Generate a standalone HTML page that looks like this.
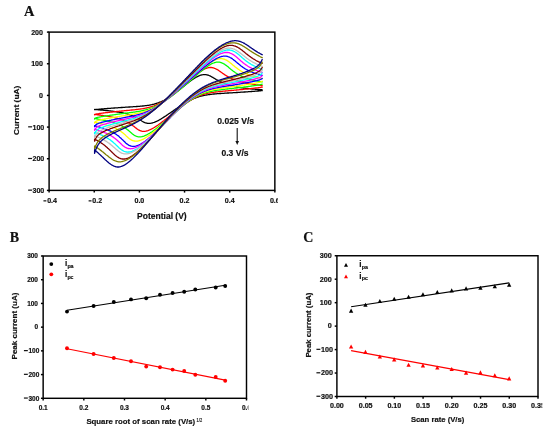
<!DOCTYPE html>
<html><head><meta charset="utf-8"><style>
html,body{margin:0;padding:0;background:#fff;}
svg{display:block;filter:blur(0.3px);}
text{font-family:"Liberation Sans", sans-serif;fill:#111;stroke:#111;stroke-width:0.18px;}
text.serif{font-family:"Liberation Serif", serif;}
</style></head><body>
<svg width="550" height="434" viewBox="0 0 550 434">
<rect width="550" height="434" fill="#fff"/>
<text x="23.9" y="16.3" font-size="14.4" font-weight="bold" class="serif">A</text>
<g fill="none" stroke-width="1.3" stroke-linejoin="round" stroke-linecap="round">
<path d="M94.6,109.7 L95.2,109.6 L95.7,109.5 L96.3,109.5 L96.8,109.4 L97.4,109.4 L97.9,109.3 L98.5,109.3 L99.0,109.2 L99.6,109.2 L100.1,109.1 L100.7,109.1 L101.2,109.0 L101.8,109.0 L102.3,108.9 L102.9,108.9 L103.4,108.8 L104.0,108.8 L104.5,108.7 L105.1,108.7 L105.6,108.6 L106.2,108.6 L106.7,108.6 L107.3,108.5 L107.8,108.5 L108.4,108.4 L109.0,108.4 L109.5,108.3 L110.1,108.3 L110.6,108.3 L111.2,108.2 L111.7,108.2 L112.3,108.1 L112.8,108.1 L113.4,108.1 L113.9,108.0 L114.5,108.0 L115.0,107.9 L115.6,107.9 L116.1,107.9 L116.7,107.8 L117.2,107.8 L117.8,107.8 L118.3,107.7 L118.9,107.7 L119.4,107.6 L120.0,107.6 L120.5,107.6 L121.1,107.5 L121.6,107.5 L122.2,107.5 L122.7,107.4 L123.3,107.4 L123.8,107.4 L124.4,107.3 L124.9,107.3 L125.5,107.2 L126.0,107.2 L126.6,107.2 L127.1,107.1 L127.7,107.1 L128.2,107.1 L128.8,107.0 L129.3,107.0 L129.9,107.0 L130.4,106.9 L131.0,106.9 L131.6,106.9 L132.1,106.8 L132.7,106.8 L133.2,106.7 L133.8,106.7 L134.3,106.7 L134.9,106.6 L135.4,106.6 L136.0,106.6 L136.5,106.5 L137.1,106.5 L137.6,106.4 L138.2,106.4 L138.7,106.3 L139.3,106.3 L139.8,106.3 L140.4,106.2 L140.9,106.2 L141.5,106.1 L142.0,106.1 L142.6,106.0 L143.1,106.0 L143.7,105.9 L144.2,105.8 L145.3,105.7 L146.4,105.6 L147.5,105.4 L148.5,105.3 L149.6,105.1 L150.7,104.9 L151.8,104.7 L152.3,104.5 L152.8,104.4 L153.4,104.3 L153.9,104.2 L154.4,104.0 L155.0,103.9 L155.5,103.7 L156.0,103.5 L156.6,103.4 L157.1,103.2 L157.6,103.0 L158.1,102.8 L158.7,102.6 L159.2,102.4 L159.7,102.2 L160.3,102.0 L160.8,101.8 L161.3,101.5 L161.8,101.3 L162.4,101.1 L162.9,100.8 L163.4,100.5 L164.0,100.3 L164.5,100.0 L165.0,99.7 L165.5,99.4 L166.1,99.1 L166.6,98.8 L167.1,98.5 L167.6,98.2 L168.2,97.9 L168.7,97.5 L169.2,97.2 L169.7,96.9 L170.3,96.5 L170.8,96.2 L171.3,95.8 L171.8,95.5 L172.4,95.1 L172.9,94.7 L173.4,94.3 L173.9,94.0 L174.5,93.6 L175.0,93.2 L175.5,92.8 L176.0,92.4 L176.6,92.0 L177.1,91.6 L177.6,91.2 L178.1,90.8 L178.7,90.4 L179.2,89.9 L179.7,89.5 L180.2,89.1 L180.8,88.7 L181.3,88.3 L181.8,87.8 L182.3,87.4 L182.9,87.0 L183.4,86.6 L183.9,86.1 L184.5,85.7 L185.0,85.3 L185.5,84.8 L186.0,84.4 L186.6,84.0 L187.1,83.6 L187.6,83.2 L188.2,82.7 L188.7,82.3 L189.2,81.9 L189.8,81.5 L190.3,81.1 L190.8,80.7 L191.4,80.3 L191.9,79.9 L192.5,79.5 L193.0,79.2 L193.5,78.8 L194.1,78.5 L194.6,78.1 L195.1,77.8 L195.7,77.5 L196.2,77.2 L196.8,76.9 L197.3,76.6 L197.9,76.3 L198.4,76.1 L198.9,75.8 L199.5,75.6 L200.0,75.4 L200.6,75.2 L201.1,75.1 L201.7,74.9 L202.2,74.8 L202.8,74.7 L203.3,74.6 L203.9,74.6 L204.4,74.6 L205.0,74.6 L205.5,74.6 L206.1,74.7 L206.6,74.8 L207.2,74.9 L207.7,75.1 L208.3,75.2 L208.9,75.5 L209.4,75.7 L210.0,75.9 L210.5,76.2 L211.1,76.5 L211.7,76.8 L212.2,77.1 L212.8,77.4 L213.4,77.8 L213.9,78.1 L214.5,78.4 L215.1,78.8 L215.6,79.1 L216.2,79.5 L216.8,79.8 L217.3,80.1 L217.9,80.5 L218.5,80.8 L219.1,81.1 L219.6,81.4 L220.2,81.7 L220.8,81.9 L221.4,82.2 L221.9,82.5 L222.5,82.7 L223.1,83.0 L223.7,83.2 L224.2,83.5 L224.8,83.7 L225.4,83.9 L226.0,84.1 L226.6,84.3 L227.1,84.5 L227.7,84.7 L228.3,84.9 L228.9,85.1 L229.5,85.2 L230.1,85.4 L230.6,85.6 L231.2,85.7 L231.8,85.9 L232.4,86.0 L233.0,86.1 L233.6,86.3 L234.1,86.4 L234.7,86.5 L235.3,86.7 L235.9,86.8 L236.5,86.9 L237.1,87.0 L237.6,87.1 L238.2,87.2 L238.8,87.3 L239.4,87.4 L240.0,87.5 L240.5,87.6 L241.1,87.7 L241.7,87.8 L242.3,87.8 L242.9,87.9 L243.4,88.0 L244.0,88.1 L244.6,88.2 L245.2,88.2 L245.8,88.3 L246.3,88.4 L246.9,88.4 L247.5,88.5 L248.1,88.6 L248.6,88.6 L249.2,88.7 L249.8,88.7 L250.4,88.8 L250.9,88.9 L251.5,88.9 L252.1,89.0 L252.6,89.0 L253.2,89.1 L253.8,89.1 L254.3,89.2 L254.9,89.2 L255.5,89.3 L256.0,89.3 L256.6,89.3 L257.2,89.4 L257.7,89.4 L258.3,89.5 L258.8,89.5 L259.4,89.6 L260.0,89.6 L260.5,89.6 L261.1,89.7 L261.6,89.7 L262.2,89.8 M262.2,90.6 L261.6,90.7 L261.1,90.7 L260.5,90.8 L260.0,90.8 L259.4,90.9 L258.9,90.9 L258.3,91.0 L257.8,91.0 L257.2,91.0 L256.7,91.1 L256.1,91.1 L255.6,91.2 L255.0,91.2 L254.5,91.3 L253.9,91.3 L253.4,91.4 L252.8,91.4 L252.3,91.4 L251.7,91.5 L251.2,91.5 L250.6,91.6 L250.1,91.6 L249.5,91.6 L249.0,91.7 L248.4,91.7 L247.8,91.8 L247.3,91.8 L246.7,91.8 L246.2,91.9 L245.6,91.9 L245.1,92.0 L244.5,92.0 L244.0,92.0 L243.4,92.1 L242.9,92.1 L242.3,92.1 L241.8,92.2 L241.2,92.2 L240.7,92.2 L240.1,92.3 L239.6,92.3 L239.0,92.3 L238.5,92.4 L237.9,92.4 L237.4,92.5 L236.8,92.5 L236.3,92.5 L235.7,92.6 L235.2,92.6 L234.6,92.6 L234.1,92.7 L233.5,92.7 L233.0,92.7 L232.4,92.8 L231.9,92.8 L231.3,92.8 L230.8,92.9 L230.2,92.9 L229.7,92.9 L229.1,92.9 L228.6,93.0 L228.0,93.0 L227.5,93.0 L226.9,93.1 L226.4,93.1 L225.8,93.1 L225.2,93.2 L224.7,93.2 L224.1,93.3 L223.6,93.3 L223.0,93.3 L222.5,93.4 L221.9,93.4 L221.4,93.4 L220.8,93.5 L220.3,93.5 L219.7,93.5 L219.2,93.6 L218.6,93.6 L218.1,93.7 L217.5,93.7 L217.0,93.7 L216.4,93.8 L215.9,93.8 L215.3,93.9 L214.8,93.9 L214.2,94.0 L213.7,94.0 L213.1,94.1 L212.5,94.1 L212.0,94.2 L211.4,94.3 L210.9,94.3 L210.3,94.4 L209.8,94.5 L209.2,94.5 L208.6,94.6 L208.1,94.7 L207.5,94.8 L207.0,94.9 L206.4,95.0 L205.8,95.1 L205.3,95.2 L204.7,95.3 L204.1,95.4 L203.6,95.5 L203.0,95.6 L202.4,95.8 L201.9,95.9 L201.3,96.0 L200.8,96.2 L200.2,96.3 L199.6,96.5 L199.1,96.7 L198.5,96.9 L197.9,97.0 L197.4,97.2 L196.8,97.4 L196.2,97.6 L195.6,97.9 L195.1,98.1 L194.5,98.3 L193.9,98.5 L193.4,98.8 L192.8,99.0 L192.2,99.3 L191.7,99.5 L191.1,99.8 L190.5,100.1 L189.9,100.4 L189.4,100.7 L188.8,101.0 L188.2,101.3 L187.7,101.6 L187.1,101.9 L186.5,102.2 L185.9,102.5 L185.4,102.9 L184.8,103.2 L184.2,103.6 L183.7,103.9 L183.1,104.3 L182.5,104.6 L181.9,105.0 L181.4,105.3 L180.8,105.7 L180.2,106.1 L179.6,106.4 L179.1,106.8 L178.5,107.2 L177.9,107.6 L177.4,108.0 L176.8,108.3 L176.2,108.7 L175.6,109.1 L175.1,109.5 L174.5,109.9 L173.9,110.3 L173.4,110.7 L172.8,111.1 L172.2,111.5 L171.7,111.9 L171.1,112.3 L170.5,112.7 L169.9,113.1 L169.4,113.4 L168.8,113.8 L168.2,114.2 L167.7,114.6 L167.1,115.0 L166.5,115.4 L166.0,115.8 L165.4,116.1 L164.8,116.5 L164.3,116.9 L163.7,117.2 L163.2,117.6 L162.6,117.9 L162.0,118.3 L161.5,118.6 L160.9,119.0 L160.3,119.3 L159.8,119.6 L159.2,119.9 L158.7,120.3 L158.1,120.6 L157.5,120.8 L157.0,121.1 L156.4,121.4 L155.9,121.6 L155.3,121.9 L154.7,122.1 L154.2,122.3 L153.6,122.5 L153.1,122.7 L152.5,122.9 L152.0,123.0 L151.4,123.1 L150.9,123.2 L150.3,123.3 L149.8,123.3 L149.2,123.4 L148.6,123.4 L148.1,123.3 L147.5,123.3 L147.0,123.2 L146.4,123.1 L145.9,122.9 L145.4,122.8 L144.8,122.6 L144.3,122.3 L143.7,122.1 L143.2,121.8 L142.6,121.5 L142.1,121.2 L141.5,120.8 L141.0,120.5 L140.5,120.1 L139.9,119.8 L139.4,119.4 L138.8,119.1 L138.3,118.7 L137.8,118.4 L137.2,118.1 L136.7,117.8 L136.2,117.5 L135.6,117.2 L135.1,116.9 L134.6,116.7 L134.0,116.4 L133.5,116.2 L133.0,116.0 L132.4,115.7 L131.9,115.5 L131.4,115.3 L130.8,115.1 L130.3,114.9 L129.8,114.8 L129.3,114.6 L128.7,114.4 L128.2,114.3 L127.7,114.1 L127.1,114.0 L126.1,113.7 L125.0,113.4 L124.0,113.2 L122.9,112.9 L121.9,112.7 L120.8,112.5 L119.8,112.3 L118.7,112.1 L117.7,112.0 L116.6,111.8 L115.6,111.6 L114.5,111.5 L113.5,111.3 L112.4,111.2 L111.3,111.1 L110.3,110.9 L109.2,110.8 L108.1,110.7 L107.1,110.6 L106.0,110.5 L104.9,110.4 L103.9,110.3 L102.8,110.2 L101.7,110.1 L100.6,110.0 L99.5,109.9 L98.4,109.8 L97.4,109.7 L96.8,109.7 L96.3,109.6 L95.7,109.6 L95.2,109.6 L94.6,109.5 L94.6,109.7" stroke="#000000"/>
<path d="M94.6,114.8 L95.2,114.3 L95.7,114.1 L96.3,114.0 L96.8,113.9 L97.4,113.8 L97.9,113.8 L98.5,113.7 L99.0,113.6 L99.6,113.5 L100.1,113.5 L100.7,113.4 L101.2,113.3 L101.8,113.2 L102.3,113.2 L102.9,113.1 L103.4,113.0 L104.0,112.9 L104.5,112.9 L105.1,112.8 L105.6,112.7 L106.2,112.7 L106.7,112.6 L107.3,112.5 L107.8,112.5 L108.4,112.4 L109.0,112.3 L109.5,112.3 L110.1,112.2 L110.6,112.2 L111.2,112.1 L111.7,112.0 L112.3,112.0 L112.8,111.9 L113.4,111.9 L113.9,111.8 L114.5,111.7 L115.0,111.7 L115.6,111.6 L116.1,111.6 L116.7,111.5 L117.2,111.5 L117.8,111.4 L118.3,111.3 L118.9,111.3 L119.4,111.2 L120.0,111.2 L120.5,111.1 L121.1,111.1 L121.6,111.0 L122.2,111.0 L122.7,110.9 L123.3,110.9 L123.8,110.8 L124.4,110.7 L124.9,110.7 L125.5,110.6 L126.0,110.6 L126.6,110.5 L127.1,110.5 L127.7,110.4 L128.2,110.4 L128.8,110.3 L129.3,110.3 L129.9,110.2 L130.4,110.2 L131.0,110.1 L131.6,110.0 L132.1,110.0 L132.7,109.9 L133.2,109.9 L133.8,109.8 L134.3,109.8 L134.9,109.7 L135.4,109.6 L136.0,109.6 L136.5,109.5 L137.1,109.4 L137.6,109.4 L138.2,109.3 L138.7,109.2 L139.3,109.2 L139.8,109.1 L140.4,109.0 L140.9,108.9 L141.5,108.9 L142.0,108.8 L142.6,108.7 L143.1,108.6 L143.7,108.5 L144.2,108.4 L144.8,108.3 L145.3,108.2 L145.9,108.1 L146.4,108.0 L147.0,107.9 L147.5,107.7 L148.1,107.6 L148.6,107.5 L149.2,107.3 L149.7,107.2 L150.3,107.0 L150.8,106.9 L151.4,106.7 L151.9,106.6 L152.4,106.4 L153.0,106.2 L153.5,106.0 L154.1,105.8 L154.6,105.6 L155.1,105.4 L155.7,105.2 L156.2,105.0 L156.8,104.7 L157.3,104.5 L157.8,104.2 L158.4,104.0 L158.9,103.7 L159.5,103.4 L160.0,103.2 L160.5,102.9 L161.1,102.6 L161.6,102.3 L162.1,102.0 L162.7,101.7 L163.2,101.4 L163.7,101.0 L164.3,100.7 L164.8,100.4 L165.3,100.0 L165.9,99.7 L166.4,99.3 L166.9,99.0 L167.5,98.6 L168.0,98.2 L168.5,97.9 L169.0,97.5 L169.6,97.1 L170.1,96.7 L170.6,96.3 L171.2,95.9 L171.7,95.5 L172.2,95.1 L172.7,94.7 L173.3,94.3 L173.8,93.9 L174.3,93.4 L174.9,93.0 L175.4,92.6 L175.9,92.1 L176.4,91.7 L177.0,91.3 L177.5,90.8 L178.0,90.4 L178.6,89.9 L179.1,89.5 L179.6,89.0 L180.1,88.6 L180.7,88.1 L181.2,87.6 L181.7,87.2 L182.2,86.7 L182.8,86.3 L183.3,85.8 L183.8,85.3 L184.4,84.9 L184.9,84.4 L185.4,83.9 L185.9,83.4 L186.5,83.0 L187.0,82.5 L187.5,82.0 L188.1,81.6 L188.6,81.1 L189.1,80.6 L189.7,80.1 L190.2,79.7 L190.7,79.2 L191.3,78.7 L191.8,78.3 L192.3,77.8 L192.9,77.3 L193.4,76.9 L193.9,76.4 L194.5,76.0 L195.0,75.5 L195.5,75.1 L196.1,74.7 L196.6,74.2 L197.1,73.8 L197.7,73.4 L198.2,73.0 L198.8,72.6 L199.3,72.2 L199.8,71.8 L200.4,71.5 L200.9,71.1 L201.5,70.8 L202.0,70.4 L202.5,70.1 L203.1,69.8 L203.6,69.5 L204.2,69.2 L204.7,69.0 L205.3,68.7 L205.8,68.5 L206.3,68.3 L206.9,68.1 L207.4,67.9 L208.0,67.8 L208.5,67.7 L209.1,67.6 L209.6,67.5 L210.2,67.5 L210.7,67.5 L211.3,67.5 L211.8,67.6 L212.4,67.6 L213.0,67.8 L213.5,67.9 L214.1,68.1 L214.6,68.3 L215.2,68.5 L215.7,68.8 L216.3,69.1 L216.9,69.4 L217.4,69.7 L218.0,70.0 L218.6,70.4 L219.1,70.8 L219.7,71.2 L220.3,71.6 L220.8,72.0 L221.4,72.4 L222.0,72.8 L222.5,73.2 L223.1,73.6 L223.7,74.0 L224.3,74.4 L224.8,74.8 L225.4,75.1 L226.0,75.5 L226.6,75.9 L227.1,76.2 L227.7,76.5 L228.3,76.9 L228.9,77.2 L229.4,77.5 L230.0,77.8 L230.6,78.1 L231.2,78.4 L231.8,78.6 L232.3,78.9 L232.9,79.1 L233.5,79.4 L234.1,79.6 L234.7,79.9 L235.3,80.1 L235.8,80.3 L236.4,80.5 L237.0,80.7 L237.6,80.9 L238.2,81.1 L238.8,81.3 L239.3,81.4 L239.9,81.6 L240.5,81.8 L241.1,81.9 L241.7,82.1 L242.2,82.2 L242.8,82.4 L243.4,82.5 L244.0,82.7 L244.6,82.8 L245.1,82.9 L245.7,83.0 L246.3,83.2 L246.9,83.3 L247.5,83.4 L248.0,83.5 L248.6,83.6 L249.2,83.7 L249.8,83.8 L250.3,83.9 L250.9,84.0 L251.5,84.1 L252.1,84.2 L252.6,84.3 L253.2,84.4 L253.8,84.5 L254.3,84.6 L254.9,84.6 L255.5,84.7 L256.0,84.8 L256.6,84.9 L257.2,85.0 L257.7,85.0 L258.3,85.1 L258.8,85.2 L259.4,85.2 L260.0,85.3 L260.5,85.4 L261.1,85.4 L261.6,85.5 L262.2,85.6 M262.2,87.1 L261.6,87.2 L261.1,87.3 L260.5,87.4 L260.0,87.5 L259.4,87.6 L258.9,87.6 L258.3,87.7 L257.8,87.8 L257.2,87.8 L256.7,87.9 L256.1,88.0 L255.6,88.0 L255.0,88.1 L254.5,88.2 L253.9,88.2 L253.4,88.3 L252.8,88.4 L252.3,88.4 L251.7,88.5 L251.2,88.6 L250.6,88.6 L250.1,88.7 L249.5,88.7 L249.0,88.8 L248.4,88.9 L247.8,88.9 L247.3,89.0 L246.7,89.0 L246.2,89.1 L245.6,89.1 L245.1,89.2 L244.5,89.2 L244.0,89.3 L243.4,89.4 L242.9,89.4 L242.3,89.5 L241.8,89.5 L241.2,89.6 L240.7,89.6 L240.1,89.7 L239.6,89.7 L239.0,89.8 L238.5,89.8 L237.9,89.9 L237.4,89.9 L236.8,90.0 L236.3,90.0 L235.7,90.1 L235.2,90.1 L234.6,90.2 L234.1,90.2 L233.5,90.3 L233.0,90.3 L232.4,90.4 L231.9,90.4 L231.3,90.5 L230.8,90.5 L230.2,90.6 L229.7,90.6 L229.1,90.7 L228.6,90.7 L228.0,90.8 L227.5,90.8 L226.9,90.9 L226.4,90.9 L225.8,91.0 L225.2,91.0 L224.7,91.1 L224.1,91.1 L223.6,91.2 L223.0,91.2 L222.5,91.3 L221.9,91.3 L221.4,91.4 L220.8,91.4 L220.3,91.5 L219.7,91.5 L219.2,91.6 L218.6,91.6 L218.1,91.7 L217.5,91.8 L217.0,91.8 L216.4,91.9 L215.9,92.0 L215.3,92.0 L214.8,92.1 L214.2,92.2 L213.7,92.3 L213.1,92.3 L212.6,92.4 L212.0,92.5 L211.5,92.6 L210.9,92.7 L210.4,92.8 L209.8,92.9 L209.3,93.0 L208.7,93.1 L208.2,93.2 L207.6,93.3 L207.1,93.4 L206.5,93.6 L206.0,93.7 L205.4,93.8 L204.9,94.0 L204.3,94.1 L203.8,94.3 L203.2,94.5 L202.7,94.6 L202.1,94.8 L201.6,95.0 L201.0,95.2 L200.5,95.4 L199.9,95.6 L199.4,95.8 L198.8,96.0 L198.3,96.3 L197.7,96.5 L197.2,96.7 L196.6,97.0 L196.1,97.3 L195.5,97.5 L195.0,97.8 L194.4,98.1 L193.9,98.4 L193.3,98.7 L192.8,99.0 L192.2,99.3 L191.7,99.6 L191.1,99.9 L190.6,100.2 L190.0,100.6 L189.5,100.9 L188.9,101.3 L188.4,101.6 L187.9,102.0 L187.3,102.4 L186.8,102.7 L186.2,103.1 L185.7,103.5 L185.1,103.9 L184.6,104.3 L184.0,104.6 L183.5,105.0 L182.9,105.5 L182.4,105.9 L181.8,106.3 L181.3,106.7 L180.7,107.1 L180.2,107.5 L179.6,107.9 L179.1,108.4 L178.6,108.8 L178.0,109.2 L177.5,109.7 L176.9,110.1 L176.4,110.5 L175.8,111.0 L175.3,111.4 L174.7,111.9 L174.2,112.3 L173.6,112.7 L173.1,113.2 L172.5,113.6 L172.0,114.1 L171.4,114.5 L170.9,115.0 L170.3,115.4 L169.8,115.9 L169.3,116.3 L168.7,116.8 L168.2,117.2 L167.6,117.6 L167.1,118.1 L166.5,118.5 L166.0,119.0 L165.4,119.4 L164.9,119.8 L164.3,120.3 L163.8,120.7 L163.2,121.1 L162.7,121.5 L162.1,122.0 L161.6,122.4 L161.0,122.8 L160.5,123.2 L159.9,123.6 L159.4,124.0 L158.8,124.4 L158.3,124.8 L157.8,125.2 L157.2,125.6 L156.7,125.9 L156.1,126.3 L155.6,126.7 L155.0,127.0 L154.5,127.4 L153.9,127.7 L153.4,128.0 L152.8,128.3 L152.3,128.6 L151.7,128.9 L151.2,129.2 L150.6,129.5 L150.1,129.7 L149.5,130.0 L149.0,130.2 L148.4,130.4 L147.9,130.6 L147.3,130.8 L146.8,130.9 L146.2,131.1 L145.7,131.2 L145.1,131.3 L144.6,131.3 L144.0,131.4 L143.5,131.4 L142.9,131.3 L142.4,131.3 L141.8,131.2 L141.3,131.0 L140.7,130.9 L140.1,130.7 L139.6,130.4 L139.0,130.2 L138.5,129.8 L137.9,129.5 L137.4,129.1 L136.8,128.7 L136.3,128.3 L135.7,127.9 L135.2,127.5 L134.6,127.0 L134.1,126.6 L133.5,126.1 L132.9,125.7 L132.4,125.3 L131.8,124.8 L131.3,124.4 L130.7,124.1 L130.2,123.7 L129.6,123.3 L129.1,123.0 L128.5,122.7 L127.9,122.4 L127.4,122.1 L126.8,121.8 L126.3,121.5 L125.7,121.3 L125.2,121.0 L124.6,120.8 L124.1,120.6 L123.5,120.3 L122.9,120.1 L122.4,119.9 L121.8,119.7 L121.3,119.5 L120.7,119.4 L120.2,119.2 L119.6,119.0 L119.0,118.8 L118.5,118.7 L117.9,118.5 L117.4,118.4 L116.8,118.2 L116.2,118.1 L115.7,117.9 L115.1,117.8 L114.6,117.7 L114.0,117.5 L113.5,117.4 L112.9,117.3 L112.4,117.2 L111.8,117.1 L111.2,117.0 L110.7,116.8 L110.1,116.7 L109.6,116.6 L109.0,116.5 L108.5,116.4 L107.9,116.3 L107.3,116.2 L106.8,116.1 L106.2,116.0 L105.7,115.9 L105.1,115.9 L104.6,115.8 L104.0,115.7 L103.5,115.6 L102.9,115.5 L102.4,115.4 L101.8,115.4 L101.2,115.3 L100.7,115.2 L100.1,115.1 L99.6,115.1 L99.0,115.0 L98.5,114.9 L97.9,114.8 L97.4,114.8 L96.8,114.7 L96.3,114.6 L95.7,114.6 L95.2,114.5 L94.6,114.4 L94.6,114.8" stroke="#ff0000"/>
<path d="M94.6,119.1 L95.2,118.3 L95.7,118.0 L96.3,117.7 L96.8,117.6 L97.4,117.5 L97.9,117.3 L98.5,117.2 L99.0,117.1 L99.6,117.0 L100.1,116.9 L100.7,116.8 L101.2,116.7 L101.8,116.6 L102.3,116.5 L102.9,116.4 L103.4,116.4 L104.0,116.3 L104.5,116.2 L105.1,116.1 L105.6,116.0 L106.2,115.9 L106.7,115.8 L107.3,115.7 L107.8,115.6 L108.4,115.6 L109.0,115.5 L109.5,115.4 L110.1,115.3 L110.6,115.2 L111.2,115.1 L111.7,115.1 L112.3,115.0 L112.8,114.9 L113.4,114.8 L113.9,114.8 L114.5,114.7 L115.0,114.6 L115.6,114.5 L116.1,114.4 L116.7,114.4 L117.2,114.3 L117.8,114.2 L118.3,114.2 L118.9,114.1 L119.4,114.0 L120.0,113.9 L120.5,113.9 L121.1,113.8 L121.6,113.7 L122.2,113.7 L122.7,113.6 L123.3,113.5 L123.8,113.4 L124.4,113.4 L124.9,113.3 L125.5,113.2 L126.0,113.2 L126.6,113.1 L127.1,113.0 L127.7,113.0 L128.2,112.9 L128.8,112.8 L129.3,112.7 L129.9,112.7 L130.4,112.6 L131.0,112.5 L131.6,112.4 L132.1,112.4 L132.7,112.3 L133.2,112.2 L133.8,112.1 L134.3,112.1 L134.9,112.0 L135.4,111.9 L136.0,111.8 L136.5,111.7 L137.1,111.6 L137.6,111.5 L138.2,111.5 L138.7,111.4 L139.3,111.3 L139.8,111.2 L140.4,111.1 L140.9,111.0 L141.5,110.8 L142.0,110.7 L142.6,110.6 L143.1,110.5 L143.7,110.4 L144.2,110.2 L144.8,110.1 L145.3,109.9 L145.9,109.8 L146.4,109.6 L147.0,109.5 L147.5,109.3 L148.1,109.2 L148.6,109.0 L149.2,108.8 L149.7,108.6 L150.3,108.4 L150.8,108.2 L151.4,108.0 L152.0,107.8 L152.5,107.6 L153.1,107.3 L153.6,107.1 L154.2,106.9 L154.7,106.6 L155.3,106.3 L155.8,106.1 L156.4,105.8 L157.0,105.5 L157.5,105.2 L158.1,104.9 L158.6,104.6 L159.2,104.3 L159.8,104.0 L160.3,103.7 L160.9,103.4 L161.4,103.0 L162.0,102.7 L162.6,102.4 L163.1,102.0 L163.7,101.6 L164.3,101.3 L164.8,100.9 L165.4,100.5 L166.0,100.2 L166.5,99.8 L167.1,99.4 L167.6,99.0 L168.2,98.6 L168.8,98.2 L169.3,97.8 L169.9,97.4 L170.5,96.9 L171.1,96.5 L171.6,96.1 L172.2,95.7 L172.8,95.2 L173.3,94.8 L173.9,94.4 L174.5,93.9 L175.0,93.5 L175.6,93.0 L176.2,92.6 L176.7,92.1 L177.3,91.6 L177.9,91.2 L178.4,90.7 L179.0,90.3 L179.6,89.8 L180.2,89.3 L180.7,88.8 L181.3,88.4 L181.9,87.9 L182.4,87.4 L183.0,86.9 L183.6,86.4 L184.2,86.0 L184.7,85.5 L185.3,85.0 L185.9,84.5 L186.4,84.0 L187.0,83.5 L187.6,83.0 L188.1,82.5 L188.7,82.0 L189.3,81.5 L189.9,81.0 L190.4,80.5 L191.0,80.0 L191.6,79.5 L192.1,79.0 L192.7,78.5 L193.3,78.0 L193.8,77.5 L194.4,77.0 L195.0,76.5 L195.5,76.0 L196.1,75.5 L196.7,75.0 L197.3,74.5 L197.8,74.0 L198.4,73.5 L198.9,73.1 L199.5,72.6 L200.1,72.1 L200.6,71.6 L201.2,71.1 L201.8,70.7 L202.3,70.2 L202.9,69.8 L203.5,69.3 L204.0,68.9 L204.6,68.4 L205.2,68.0 L205.7,67.6 L206.3,67.2 L206.8,66.8 L207.4,66.4 L208.0,66.0 L208.5,65.6 L209.1,65.3 L209.6,64.9 L210.2,64.6 L210.8,64.3 L211.3,64.0 L211.9,63.7 L212.4,63.5 L213.0,63.2 L213.5,63.0 L214.1,62.8 L214.6,62.6 L215.2,62.5 L215.8,62.3 L216.3,62.2 L216.9,62.2 L217.4,62.1 L218.0,62.1 L218.5,62.1 L219.1,62.2 L219.6,62.2 L220.2,62.3 L220.7,62.5 L221.2,62.6 L221.8,62.8 L222.3,63.1 L222.9,63.3 L223.4,63.6 L224.0,63.9 L224.5,64.2 L225.0,64.6 L225.6,65.0 L226.1,65.4 L226.7,65.8 L227.2,66.2 L227.7,66.6 L228.3,67.1 L228.8,67.5 L229.3,68.0 L229.9,68.4 L230.4,68.9 L230.9,69.3 L231.4,69.7 L232.0,70.1 L232.5,70.6 L233.0,71.0 L233.6,71.4 L234.1,71.7 L234.6,72.1 L235.1,72.5 L235.7,72.8 L236.2,73.2 L236.7,73.5 L237.2,73.8 L237.8,74.2 L238.3,74.5 L238.8,74.8 L239.3,75.0 L239.8,75.3 L240.4,75.6 L240.9,75.9 L241.4,76.1 L241.9,76.4 L242.5,76.6 L243.0,76.8 L243.5,77.0 L244.0,77.3 L244.6,77.5 L245.1,77.7 L245.6,77.9 L246.1,78.1 L246.7,78.3 L247.2,78.4 L247.7,78.6 L248.2,78.8 L248.8,78.9 L249.3,79.1 L249.8,79.3 L250.4,79.4 L250.9,79.6 L251.4,79.7 L251.9,79.8 L252.5,80.0 L253.0,80.1 L253.5,80.2 L254.1,80.4 L254.6,80.5 L255.1,80.6 L255.7,80.7 L256.2,80.8 L256.8,80.9 L257.3,81.1 L257.8,81.2 L258.4,81.3 L258.9,81.4 L259.5,81.5 L260.0,81.6 L260.6,81.6 L261.1,81.7 L261.6,81.8 L262.2,81.9 M262.2,84.1 L261.6,84.3 L261.1,84.5 L260.5,84.6 L260.0,84.7 L259.4,84.8 L258.9,84.9 L258.3,85.0 L257.8,85.1 L257.2,85.2 L256.7,85.3 L256.1,85.4 L255.6,85.4 L255.0,85.5 L254.5,85.6 L253.9,85.7 L253.4,85.8 L252.8,85.9 L252.3,85.9 L251.7,86.0 L251.2,86.1 L250.6,86.2 L250.1,86.3 L249.5,86.3 L249.0,86.4 L248.4,86.5 L247.8,86.6 L247.3,86.6 L246.7,86.7 L246.2,86.8 L245.6,86.9 L245.1,86.9 L244.5,87.0 L244.0,87.1 L243.4,87.1 L242.9,87.2 L242.3,87.3 L241.8,87.3 L241.2,87.4 L240.7,87.5 L240.1,87.5 L239.6,87.6 L239.0,87.7 L238.5,87.7 L237.9,87.8 L237.4,87.9 L236.8,87.9 L236.3,88.0 L235.7,88.1 L235.2,88.1 L234.6,88.2 L234.1,88.2 L233.5,88.3 L233.0,88.4 L232.4,88.4 L231.9,88.5 L231.3,88.6 L230.8,88.6 L230.2,88.7 L229.7,88.7 L229.1,88.8 L228.6,88.9 L228.0,88.9 L227.5,89.0 L226.9,89.0 L226.4,89.1 L225.8,89.2 L225.2,89.2 L224.7,89.3 L224.1,89.4 L223.6,89.4 L223.0,89.5 L222.5,89.6 L221.9,89.6 L221.4,89.7 L220.8,89.8 L220.3,89.8 L219.7,89.9 L219.2,90.0 L218.6,90.1 L218.1,90.1 L217.5,90.2 L217.0,90.3 L216.4,90.4 L215.9,90.5 L215.3,90.6 L214.8,90.6 L214.2,90.7 L213.7,90.8 L213.1,90.9 L212.6,91.0 L212.0,91.1 L211.5,91.3 L210.9,91.4 L210.4,91.5 L209.8,91.6 L209.3,91.7 L208.7,91.9 L208.2,92.0 L207.6,92.1 L207.1,92.3 L206.5,92.4 L206.0,92.6 L205.4,92.8 L204.9,92.9 L204.3,93.1 L203.8,93.3 L203.2,93.5 L202.7,93.7 L202.1,93.9 L201.6,94.1 L201.0,94.3 L200.5,94.6 L199.9,94.8 L199.4,95.1 L198.8,95.3 L198.3,95.6 L197.7,95.8 L197.2,96.1 L196.6,96.4 L196.1,96.7 L195.6,97.0 L195.0,97.3 L194.5,97.6 L193.9,97.9 L193.4,98.2 L192.8,98.6 L192.3,98.9 L191.8,99.2 L191.2,99.6 L190.7,99.9 L190.1,100.3 L189.6,100.7 L189.1,101.1 L188.5,101.4 L188.0,101.8 L187.4,102.2 L186.9,102.6 L186.4,103.0 L185.8,103.4 L185.3,103.8 L184.8,104.2 L184.2,104.7 L183.7,105.1 L183.1,105.5 L182.6,105.9 L182.1,106.4 L181.5,106.8 L181.0,107.3 L180.5,107.7 L179.9,108.2 L179.4,108.6 L178.9,109.1 L178.3,109.5 L177.8,110.0 L177.3,110.4 L176.7,110.9 L176.2,111.4 L175.7,111.8 L175.1,112.3 L174.6,112.8 L174.1,113.3 L173.5,113.7 L173.0,114.2 L172.4,114.7 L171.9,115.2 L171.4,115.6 L170.8,116.1 L170.3,116.6 L169.8,117.1 L169.2,117.5 L168.7,118.0 L168.2,118.5 L167.6,119.0 L167.1,119.4 L166.6,119.9 L166.0,120.4 L165.5,120.9 L165.0,121.3 L164.4,121.8 L163.9,122.3 L163.4,122.7 L162.8,123.2 L162.3,123.6 L161.7,124.1 L161.2,124.6 L160.7,125.0 L160.1,125.5 L159.6,125.9 L159.1,126.3 L158.5,126.8 L158.0,127.2 L157.4,127.6 L156.9,128.1 L156.4,128.5 L155.8,128.9 L155.3,129.3 L154.7,129.7 L154.2,130.1 L153.7,130.5 L153.1,130.9 L152.6,131.3 L152.0,131.7 L151.5,132.0 L151.0,132.4 L150.4,132.7 L149.9,133.1 L149.3,133.4 L148.8,133.7 L148.2,134.0 L147.7,134.3 L147.2,134.6 L146.6,134.9 L146.1,135.2 L145.5,135.4 L145.0,135.7 L144.4,135.9 L143.9,136.1 L143.3,136.3 L142.8,136.4 L142.2,136.6 L141.7,136.7 L141.1,136.8 L140.6,136.8 L140.0,136.9 L139.5,136.9 L138.9,136.9 L138.4,136.8 L137.8,136.7 L137.3,136.6 L136.7,136.4 L136.1,136.2 L135.6,136.0 L135.0,135.7 L134.5,135.4 L133.9,135.0 L133.4,134.6 L132.8,134.2 L132.2,133.8 L131.7,133.3 L131.1,132.8 L130.5,132.3 L130.0,131.8 L129.4,131.3 L128.8,130.8 L128.3,130.3 L127.7,129.9 L127.1,129.4 L126.5,129.0 L126.0,128.5 L125.4,128.1 L124.8,127.7 L124.3,127.4 L123.7,127.0 L123.1,126.7 L122.5,126.3 L122.0,126.0 L121.4,125.7 L120.8,125.4 L120.2,125.2 L119.6,124.9 L119.1,124.7 L118.5,124.4 L117.9,124.2 L117.3,124.0 L116.8,123.7 L116.2,123.5 L115.6,123.3 L115.0,123.1 L114.5,122.9 L113.9,122.8 L113.3,122.6 L112.7,122.4 L112.1,122.2 L111.6,122.1 L111.0,121.9 L110.4,121.8 L109.8,121.6 L109.3,121.5 L108.7,121.3 L108.1,121.2 L107.6,121.0 L107.0,120.9 L106.4,120.8 L105.8,120.6 L105.3,120.5 L104.7,120.4 L104.1,120.3 L103.6,120.1 L103.0,120.0 L102.4,119.9 L101.9,119.8 L101.3,119.7 L100.7,119.6 L100.2,119.5 L99.6,119.4 L99.1,119.3 L98.5,119.2 L97.9,119.1 L97.4,119.0 L96.8,118.9 L96.3,118.8 L95.7,118.7 L95.2,118.6 L94.6,118.5 L94.6,119.1" stroke="#00ff00"/>
<path d="M94.6,123.0 L95.2,122.1 L95.7,121.5 L96.3,121.2 L96.8,120.9 L97.4,120.7 L97.9,120.5 L98.5,120.4 L99.0,120.3 L99.6,120.1 L100.1,120.0 L100.7,119.9 L101.2,119.7 L101.8,119.6 L102.3,119.5 L102.9,119.4 L103.4,119.3 L104.0,119.2 L104.5,119.0 L105.1,118.9 L105.6,118.8 L106.2,118.7 L106.7,118.6 L107.3,118.5 L107.8,118.4 L108.4,118.3 L109.0,118.2 L109.5,118.1 L110.1,118.0 L110.6,117.9 L111.2,117.8 L111.7,117.7 L112.3,117.6 L112.8,117.5 L113.4,117.4 L113.9,117.3 L114.5,117.2 L115.0,117.1 L115.6,117.0 L116.1,116.9 L116.7,116.8 L117.2,116.7 L117.8,116.6 L118.3,116.6 L118.9,116.5 L119.4,116.4 L120.0,116.3 L120.5,116.2 L121.1,116.1 L121.6,116.0 L122.2,115.9 L122.7,115.9 L123.3,115.8 L123.8,115.7 L124.4,115.6 L124.9,115.5 L125.5,115.4 L126.0,115.3 L126.6,115.2 L127.1,115.2 L127.7,115.1 L128.2,115.0 L128.8,114.9 L129.3,114.8 L129.9,114.7 L130.4,114.6 L131.0,114.5 L131.6,114.4 L132.1,114.3 L132.7,114.2 L133.2,114.2 L133.8,114.1 L134.3,114.0 L134.9,113.9 L135.4,113.7 L136.0,113.6 L136.5,113.5 L137.1,113.4 L137.6,113.3 L138.2,113.2 L138.7,113.1 L139.3,112.9 L139.8,112.8 L140.4,112.7 L140.9,112.5 L141.5,112.4 L142.0,112.3 L142.6,112.1 L143.1,112.0 L143.7,111.8 L144.2,111.6 L144.8,111.5 L145.3,111.3 L145.9,111.1 L146.4,110.9 L147.0,110.7 L147.5,110.5 L148.1,110.3 L148.6,110.1 L149.2,109.9 L149.7,109.7 L150.3,109.4 L150.8,109.2 L151.4,108.9 L151.9,108.7 L152.5,108.4 L153.1,108.1 L153.6,107.9 L154.2,107.6 L154.7,107.3 L155.3,107.0 L155.8,106.7 L156.4,106.4 L156.9,106.1 L157.5,105.7 L158.0,105.4 L158.6,105.1 L159.1,104.7 L159.7,104.4 L160.3,104.0 L160.8,103.7 L161.4,103.3 L161.9,102.9 L162.5,102.6 L163.0,102.2 L163.6,101.8 L164.2,101.4 L164.7,101.0 L165.3,100.6 L165.8,100.2 L166.4,99.8 L167.0,99.3 L167.5,98.9 L168.1,98.5 L168.6,98.1 L169.2,97.6 L169.8,97.2 L170.3,96.8 L170.9,96.3 L171.5,95.9 L172.0,95.4 L172.6,95.0 L173.1,94.5 L173.7,94.0 L174.3,93.6 L174.8,93.1 L175.4,92.6 L176.0,92.2 L176.5,91.7 L177.1,91.2 L177.7,90.7 L178.2,90.2 L178.8,89.8 L179.3,89.3 L179.9,88.8 L180.5,88.3 L181.0,87.8 L181.6,87.3 L182.2,86.8 L182.7,86.3 L183.3,85.8 L183.9,85.3 L184.4,84.8 L185.0,84.3 L185.6,83.8 L186.1,83.3 L186.7,82.8 L187.3,82.3 L187.8,81.8 L188.4,81.3 L189.0,80.8 L189.5,80.3 L190.1,79.8 L190.7,79.3 L191.2,78.7 L191.8,78.2 L192.4,77.7 L192.9,77.2 L193.5,76.7 L194.1,76.2 L194.6,75.7 L195.2,75.2 L195.8,74.7 L196.3,74.2 L196.9,73.7 L197.4,73.2 L198.0,72.7 L198.6,72.2 L199.1,71.7 L199.7,71.2 L200.3,70.7 L200.8,70.2 L201.4,69.7 L202.0,69.2 L202.5,68.8 L203.1,68.3 L203.6,67.8 L204.2,67.4 L204.8,66.9 L205.3,66.4 L205.9,66.0 L206.4,65.6 L207.0,65.1 L207.6,64.7 L208.1,64.3 L208.7,63.9 L209.2,63.5 L209.8,63.1 L210.4,62.7 L210.9,62.3 L211.5,62.0 L212.0,61.6 L212.6,61.3 L213.1,61.0 L213.7,60.7 L214.3,60.4 L214.8,60.2 L215.4,59.9 L215.9,59.7 L216.5,59.5 L217.0,59.3 L217.6,59.1 L218.1,59.0 L218.7,58.8 L219.2,58.8 L219.8,58.7 L220.3,58.6 L220.9,58.6 L221.4,58.6 L222.0,58.7 L222.5,58.8 L223.1,58.9 L223.6,59.0 L224.2,59.1 L224.7,59.3 L225.3,59.6 L225.8,59.8 L226.4,60.1 L226.9,60.4 L227.4,60.7 L228.0,61.1 L228.5,61.5 L229.1,61.9 L229.6,62.3 L230.1,62.7 L230.7,63.1 L231.2,63.6 L231.7,64.0 L232.3,64.5 L232.8,64.9 L233.4,65.4 L233.9,65.8 L234.4,66.2 L234.9,66.7 L235.5,67.1 L236.0,67.5 L236.5,67.9 L237.1,68.3 L237.6,68.7 L238.1,69.1 L238.7,69.5 L239.2,69.8 L239.7,70.2 L240.2,70.5 L240.8,70.9 L241.3,71.2 L241.8,71.5 L242.4,71.8 L242.9,72.1 L243.4,72.4 L243.9,72.6 L244.5,72.9 L245.0,73.2 L245.5,73.4 L246.1,73.7 L246.6,73.9 L247.1,74.1 L247.7,74.4 L248.2,74.6 L248.7,74.8 L249.2,75.0 L249.8,75.2 L250.3,75.4 L250.8,75.6 L251.4,75.8 L251.9,75.9 L252.4,76.1 L253.0,76.3 L253.5,76.4 L254.1,76.6 L254.6,76.7 L255.1,76.9 L255.7,77.0 L256.2,77.2 L256.7,77.3 L257.3,77.5 L257.8,77.6 L258.4,77.7 L258.9,77.9 L259.5,78.0 L260.0,78.1 L260.5,78.2 L261.1,78.3 L261.6,78.4 L262.2,78.5 M262.2,81.2 L261.6,81.5 L261.1,81.8 L260.5,82.0 L260.0,82.1 L259.4,82.3 L258.9,82.4 L258.3,82.5 L257.8,82.7 L257.2,82.8 L256.7,82.9 L256.1,83.0 L255.6,83.1 L255.0,83.2 L254.5,83.3 L253.9,83.4 L253.4,83.5 L252.8,83.6 L252.3,83.7 L251.7,83.8 L251.2,83.9 L250.6,84.0 L250.1,84.1 L249.5,84.2 L249.0,84.3 L248.4,84.4 L247.8,84.5 L247.3,84.6 L246.7,84.6 L246.2,84.7 L245.6,84.8 L245.1,84.9 L244.5,85.0 L244.0,85.1 L243.4,85.2 L242.9,85.2 L242.3,85.3 L241.8,85.4 L241.2,85.5 L240.7,85.6 L240.1,85.6 L239.6,85.7 L239.0,85.8 L238.5,85.9 L237.9,86.0 L237.4,86.0 L236.8,86.1 L236.3,86.2 L235.7,86.3 L235.2,86.3 L234.6,86.4 L234.1,86.5 L233.5,86.6 L233.0,86.6 L232.4,86.7 L231.9,86.8 L231.3,86.9 L230.8,86.9 L230.2,87.0 L229.7,87.1 L229.1,87.2 L228.6,87.2 L228.0,87.3 L227.5,87.4 L226.9,87.5 L226.4,87.5 L225.8,87.6 L225.2,87.7 L224.7,87.8 L224.1,87.9 L223.6,87.9 L223.0,88.0 L222.5,88.1 L221.9,88.2 L221.4,88.3 L220.8,88.3 L220.3,88.4 L219.7,88.5 L219.2,88.6 L218.6,88.7 L218.1,88.8 L217.5,88.9 L217.0,89.0 L216.4,89.1 L215.9,89.2 L215.3,89.3 L214.8,89.4 L214.2,89.5 L213.7,89.6 L213.1,89.7 L212.6,89.8 L212.0,90.0 L211.5,90.1 L210.9,90.2 L210.4,90.4 L209.8,90.5 L209.3,90.6 L208.7,90.8 L208.2,91.0 L207.6,91.1 L207.1,91.3 L206.5,91.5 L206.0,91.6 L205.4,91.8 L204.9,92.0 L204.3,92.2 L203.8,92.4 L203.2,92.6 L202.6,92.9 L202.1,93.1 L201.5,93.3 L201.0,93.6 L200.4,93.8 L199.9,94.1 L199.3,94.3 L198.8,94.6 L198.3,94.9 L197.7,95.2 L197.2,95.5 L196.6,95.8 L196.1,96.1 L195.5,96.4 L195.0,96.7 L194.4,97.1 L193.9,97.4 L193.4,97.8 L192.8,98.1 L192.3,98.5 L191.7,98.8 L191.2,99.2 L190.6,99.6 L190.1,100.0 L189.6,100.3 L189.0,100.7 L188.5,101.1 L188.0,101.5 L187.4,102.0 L186.9,102.4 L186.3,102.8 L185.8,103.2 L185.3,103.6 L184.7,104.1 L184.2,104.5 L183.7,105.0 L183.1,105.4 L182.6,105.9 L182.1,106.3 L181.5,106.8 L181.0,107.2 L180.5,107.7 L180.0,108.2 L179.4,108.6 L178.9,109.1 L178.4,109.6 L177.8,110.1 L177.3,110.5 L176.8,111.0 L176.2,111.5 L175.7,112.0 L175.2,112.5 L174.7,113.0 L174.1,113.5 L173.6,114.0 L173.1,114.5 L172.5,115.0 L172.0,115.4 L171.5,115.9 L171.0,116.4 L170.4,116.9 L169.9,117.4 L169.4,117.9 L168.8,118.4 L168.3,118.9 L167.8,119.4 L167.3,119.9 L166.7,120.4 L166.2,120.9 L165.7,121.4 L165.1,121.9 L164.6,122.4 L164.1,122.9 L163.6,123.4 L163.0,123.9 L162.5,124.3 L162.0,124.8 L161.4,125.3 L160.9,125.8 L160.4,126.3 L159.9,126.7 L159.3,127.2 L158.8,127.7 L158.3,128.1 L157.7,128.6 L157.2,129.1 L156.7,129.5 L156.1,130.0 L155.6,130.4 L155.1,130.9 L154.5,131.3 L154.0,131.7 L153.5,132.2 L152.9,132.6 L152.4,133.0 L151.9,133.4 L151.3,133.8 L150.8,134.2 L150.3,134.6 L149.7,135.0 L149.2,135.4 L148.6,135.8 L148.1,136.1 L147.6,136.5 L147.0,136.9 L146.5,137.2 L145.9,137.5 L145.4,137.9 L144.9,138.2 L144.3,138.5 L143.8,138.8 L143.2,139.1 L142.7,139.3 L142.1,139.6 L141.6,139.8 L141.1,140.0 L140.5,140.3 L140.0,140.4 L139.4,140.6 L138.9,140.8 L138.3,140.9 L137.8,141.0 L137.2,141.1 L136.7,141.1 L136.1,141.2 L135.6,141.2 L135.0,141.1 L134.5,141.0 L133.9,140.9 L133.3,140.8 L132.8,140.6 L132.2,140.4 L131.7,140.1 L131.1,139.8 L130.5,139.5 L130.0,139.1 L129.4,138.7 L128.8,138.2 L128.2,137.7 L127.7,137.2 L127.1,136.7 L126.5,136.2 L125.9,135.6 L125.4,135.1 L124.8,134.6 L124.2,134.1 L123.6,133.6 L123.0,133.1 L122.4,132.6 L121.9,132.2 L121.3,131.7 L120.7,131.3 L120.1,130.9 L119.5,130.5 L118.9,130.2 L118.3,129.8 L117.7,129.5 L117.1,129.2 L116.6,128.9 L116.0,128.6 L115.4,128.3 L114.8,128.0 L114.2,127.8 L113.6,127.5 L113.0,127.3 L112.4,127.1 L111.8,126.8 L111.2,126.6 L110.7,126.4 L110.1,126.2 L109.5,126.0 L108.9,125.8 L108.3,125.6 L107.7,125.5 L107.1,125.3 L106.6,125.1 L106.0,124.9 L105.4,124.8 L104.8,124.6 L104.2,124.5 L103.7,124.3 L103.1,124.2 L102.5,124.0 L101.9,123.9 L101.4,123.7 L100.8,123.6 L100.2,123.5 L99.6,123.3 L99.1,123.2 L98.5,123.1 L98.0,122.9 L97.4,122.8 L96.8,122.7 L96.3,122.6 L95.7,122.5 L95.2,122.4 L94.6,122.2 L94.6,123.0" stroke="#ffff00"/>
<path d="M94.6,126.7 L95.2,125.6 L95.7,124.9 L96.3,124.4 L96.8,124.1 L97.4,123.8 L97.9,123.6 L98.5,123.3 L99.0,123.2 L99.6,123.0 L100.1,122.8 L100.7,122.7 L101.2,122.5 L101.8,122.4 L102.3,122.2 L102.9,122.1 L103.4,121.9 L104.0,121.8 L104.5,121.7 L105.1,121.5 L105.6,121.4 L106.2,121.3 L106.7,121.1 L107.3,121.0 L107.8,120.9 L108.4,120.8 L109.0,120.6 L109.5,120.5 L110.1,120.4 L110.6,120.3 L111.2,120.2 L111.7,120.0 L112.3,119.9 L112.8,119.8 L113.4,119.7 L113.9,119.6 L114.5,119.5 L115.0,119.4 L115.6,119.2 L116.1,119.1 L116.7,119.0 L117.2,118.9 L117.8,118.8 L118.3,118.7 L118.9,118.6 L119.4,118.5 L120.0,118.4 L120.5,118.3 L121.1,118.2 L121.6,118.1 L122.2,118.0 L122.7,117.9 L123.3,117.8 L123.8,117.7 L124.4,117.6 L124.9,117.5 L125.5,117.4 L126.0,117.2 L126.6,117.1 L127.1,117.0 L127.7,116.9 L128.2,116.8 L128.8,116.7 L129.3,116.6 L129.9,116.5 L130.4,116.4 L131.0,116.3 L131.6,116.2 L132.1,116.1 L132.7,115.9 L133.2,115.8 L133.8,115.7 L134.3,115.6 L134.9,115.5 L135.4,115.3 L136.0,115.2 L136.5,115.1 L137.1,114.9 L137.6,114.8 L138.2,114.6 L138.7,114.5 L139.3,114.3 L139.8,114.2 L140.4,114.0 L140.9,113.9 L141.5,113.7 L142.0,113.5 L142.6,113.3 L143.1,113.2 L143.7,113.0 L144.2,112.8 L144.8,112.6 L145.3,112.4 L145.9,112.2 L146.4,111.9 L147.0,111.7 L147.5,111.5 L148.1,111.2 L148.6,111.0 L149.2,110.7 L149.7,110.5 L150.3,110.2 L150.8,109.9 L151.4,109.6 L151.9,109.4 L152.5,109.1 L153.0,108.8 L153.6,108.5 L154.2,108.1 L154.7,107.8 L155.3,107.5 L155.8,107.2 L156.4,106.8 L156.9,106.5 L157.5,106.1 L158.0,105.8 L158.6,105.4 L159.1,105.0 L159.7,104.6 L160.3,104.3 L160.8,103.9 L161.4,103.5 L161.9,103.1 L162.5,102.7 L163.1,102.3 L163.6,101.9 L164.2,101.4 L164.7,101.0 L165.3,100.6 L165.9,100.2 L166.4,99.7 L167.0,99.3 L167.6,98.8 L168.1,98.4 L168.7,97.9 L169.3,97.5 L169.8,97.0 L170.4,96.6 L171.0,96.1 L171.5,95.6 L172.1,95.1 L172.7,94.7 L173.3,94.2 L173.8,93.7 L174.4,93.2 L175.0,92.7 L175.6,92.3 L176.1,91.8 L176.7,91.3 L177.3,90.8 L177.9,90.3 L178.4,89.8 L179.0,89.3 L179.6,88.8 L180.2,88.3 L180.7,87.8 L181.3,87.3 L181.9,86.8 L182.5,86.3 L183.1,85.8 L183.6,85.2 L184.2,84.7 L184.8,84.2 L185.4,83.7 L185.9,83.2 L186.5,82.7 L187.1,82.2 L187.7,81.7 L188.3,81.1 L188.8,80.6 L189.4,80.1 L190.0,79.6 L190.6,79.1 L191.2,78.6 L191.7,78.0 L192.3,77.5 L192.9,77.0 L193.5,76.5 L194.1,76.0 L194.6,75.5 L195.2,75.0 L195.8,74.5 L196.4,74.0 L197.0,73.5 L197.5,73.0 L198.1,72.4 L198.7,71.9 L199.3,71.4 L199.8,70.9 L200.4,70.5 L201.0,70.0 L201.6,69.5 L202.2,69.0 L202.7,68.5 L203.3,68.0 L203.9,67.5 L204.4,67.1 L205.0,66.6 L205.6,66.1 L206.2,65.7 L206.7,65.2 L207.3,64.8 L207.9,64.3 L208.5,63.9 L209.0,63.5 L209.6,63.0 L210.2,62.6 L210.7,62.2 L211.3,61.8 L211.9,61.4 L212.4,61.0 L213.0,60.6 L213.6,60.3 L214.1,59.9 L214.7,59.6 L215.3,59.2 L215.8,58.9 L216.4,58.6 L216.9,58.3 L217.5,58.0 L218.1,57.8 L218.6,57.5 L219.2,57.3 L219.7,57.1 L220.3,56.9 L220.9,56.7 L221.4,56.5 L222.0,56.4 L222.5,56.3 L223.1,56.2 L223.6,56.1 L224.2,56.1 L224.7,56.1 L225.3,56.1 L225.8,56.1 L226.4,56.2 L226.9,56.3 L227.5,56.4 L228.0,56.6 L228.5,56.8 L229.1,57.0 L229.6,57.2 L230.1,57.5 L230.7,57.8 L231.2,58.1 L231.7,58.4 L232.3,58.8 L232.8,59.2 L233.3,59.5 L233.8,60.0 L234.3,60.4 L234.9,60.8 L235.4,61.2 L235.9,61.7 L236.4,62.1 L236.9,62.5 L237.4,63.0 L237.9,63.4 L238.5,63.8 L239.0,64.3 L239.5,64.7 L240.0,65.1 L240.5,65.5 L241.0,65.9 L241.5,66.3 L242.0,66.6 L242.5,67.0 L243.0,67.4 L243.5,67.7 L244.0,68.0 L244.5,68.4 L245.0,68.7 L245.5,69.0 L246.0,69.3 L246.5,69.6 L247.1,69.8 L247.6,70.1 L248.1,70.4 L248.6,70.6 L249.1,70.9 L249.6,71.1 L250.1,71.4 L250.6,71.6 L251.1,71.8 L251.6,72.0 L252.1,72.2 L252.7,72.4 L253.2,72.6 L253.7,72.8 L254.2,73.0 L254.7,73.2 L255.3,73.4 L255.8,73.6 L256.3,73.7 L256.8,73.9 L257.4,74.1 L257.9,74.2 L258.4,74.4 L259.0,74.5 L259.5,74.7 L260.0,74.8 L260.6,74.9 L261.1,75.1 L261.7,75.2 L262.2,75.4 M262.2,78.4 L261.6,78.9 L261.1,79.2 L260.5,79.5 L260.0,79.7 L259.4,79.9 L258.9,80.1 L258.3,80.2 L257.8,80.4 L257.2,80.5 L256.7,80.7 L256.1,80.8 L255.6,80.9 L255.0,81.0 L254.5,81.2 L253.9,81.3 L253.4,81.4 L252.8,81.5 L252.3,81.6 L251.7,81.8 L251.2,81.9 L250.6,82.0 L250.1,82.1 L249.5,82.2 L249.0,82.3 L248.4,82.4 L247.8,82.5 L247.3,82.6 L246.7,82.7 L246.2,82.8 L245.6,82.9 L245.1,83.0 L244.5,83.1 L244.0,83.2 L243.4,83.3 L242.9,83.4 L242.3,83.5 L241.8,83.6 L241.2,83.7 L240.7,83.8 L240.1,83.9 L239.6,84.0 L239.0,84.1 L238.5,84.2 L237.9,84.3 L237.4,84.4 L236.8,84.5 L236.3,84.5 L235.7,84.6 L235.2,84.7 L234.6,84.8 L234.1,84.9 L233.5,85.0 L233.0,85.1 L232.4,85.2 L231.9,85.2 L231.3,85.3 L230.8,85.4 L230.2,85.5 L229.7,85.6 L229.1,85.7 L228.6,85.8 L228.0,85.9 L227.5,85.9 L226.9,86.0 L226.4,86.1 L225.8,86.2 L225.2,86.3 L224.7,86.4 L224.1,86.5 L223.6,86.6 L223.0,86.7 L222.5,86.7 L221.9,86.8 L221.4,86.9 L220.8,87.0 L220.3,87.1 L219.7,87.2 L219.2,87.3 L218.6,87.4 L218.1,87.5 L217.5,87.6 L217.0,87.8 L216.4,87.9 L215.9,88.0 L215.3,88.1 L214.8,88.2 L214.2,88.3 L213.7,88.5 L213.1,88.6 L212.6,88.7 L212.0,88.9 L211.5,89.0 L210.9,89.2 L210.4,89.3 L209.8,89.5 L209.3,89.7 L208.7,89.8 L208.2,90.0 L207.6,90.2 L207.1,90.4 L206.5,90.6 L206.0,90.8 L205.4,91.0 L204.9,91.2 L204.3,91.4 L203.8,91.6 L203.2,91.8 L202.6,92.1 L202.1,92.3 L201.5,92.6 L201.0,92.8 L200.4,93.1 L199.9,93.4 L199.3,93.7 L198.8,94.0 L198.2,94.3 L197.7,94.6 L197.1,94.9 L196.6,95.2 L196.0,95.5 L195.5,95.9 L194.9,96.2 L194.4,96.6 L193.9,96.9 L193.3,97.3 L192.8,97.6 L192.2,98.0 L191.7,98.4 L191.1,98.8 L190.6,99.2 L190.1,99.6 L189.5,100.0 L189.0,100.4 L188.5,100.8 L187.9,101.2 L187.4,101.6 L186.9,102.1 L186.3,102.5 L185.8,102.9 L185.3,103.4 L184.7,103.8 L184.2,104.3 L183.7,104.8 L183.1,105.2 L182.6,105.7 L182.1,106.1 L181.6,106.6 L181.0,107.1 L180.5,107.6 L180.0,108.1 L179.5,108.5 L178.9,109.0 L178.4,109.5 L177.9,110.0 L177.4,110.5 L176.8,111.0 L176.3,111.5 L175.8,112.0 L175.3,112.5 L174.8,113.0 L174.2,113.5 L173.7,114.0 L173.2,114.6 L172.7,115.1 L172.2,115.6 L171.6,116.1 L171.1,116.6 L170.6,117.1 L170.1,117.7 L169.6,118.2 L169.1,118.7 L168.5,119.2 L168.0,119.8 L167.5,120.3 L167.0,120.8 L166.5,121.3 L166.0,121.8 L165.4,122.4 L164.9,122.9 L164.4,123.4 L163.9,123.9 L163.4,124.5 L162.9,125.0 L162.3,125.5 L161.8,126.0 L161.3,126.5 L160.8,127.1 L160.3,127.6 L159.8,128.1 L159.2,128.6 L158.7,129.1 L158.2,129.6 L157.7,130.1 L157.2,130.6 L156.6,131.1 L156.1,131.6 L155.6,132.1 L155.1,132.6 L154.6,133.1 L154.0,133.6 L153.5,134.1 L153.0,134.6 L152.5,135.1 L151.9,135.5 L151.4,136.0 L150.9,136.5 L150.4,136.9 L149.8,137.4 L149.3,137.8 L148.8,138.3 L148.3,138.7 L147.7,139.1 L147.2,139.6 L146.7,140.0 L146.1,140.4 L145.6,140.8 L145.1,141.2 L144.5,141.6 L144.0,142.0 L143.5,142.3 L142.9,142.7 L142.4,143.0 L141.9,143.4 L141.3,143.7 L140.8,144.0 L140.3,144.3 L139.7,144.6 L139.2,144.9 L138.6,145.1 L138.1,145.3 L137.5,145.6 L137.0,145.7 L136.5,145.9 L135.9,146.1 L135.4,146.2 L134.8,146.3 L134.3,146.3 L133.7,146.4 L133.2,146.4 L132.6,146.4 L132.1,146.3 L131.5,146.2 L130.9,146.0 L130.4,145.9 L129.8,145.6 L129.2,145.4 L128.7,145.1 L128.1,144.7 L127.5,144.3 L126.9,143.9 L126.3,143.4 L125.7,142.9 L125.1,142.3 L124.6,141.8 L124.0,141.2 L123.4,140.6 L122.8,140.0 L122.2,139.4 L121.6,138.9 L121.0,138.3 L120.3,137.7 L119.7,137.2 L119.1,136.6 L118.5,136.1 L117.9,135.6 L117.3,135.2 L116.7,134.7 L116.1,134.3 L115.4,133.9 L114.8,133.5 L114.2,133.1 L113.6,132.7 L113.0,132.4 L112.4,132.0 L111.8,131.7 L111.1,131.4 L110.5,131.1 L109.9,130.8 L109.3,130.6 L108.7,130.3 L108.1,130.0 L107.5,129.8 L106.9,129.5 L106.2,129.3 L105.6,129.1 L105.0,128.9 L104.4,128.6 L103.8,128.4 L103.2,128.2 L102.6,128.0 L102.1,127.8 L101.5,127.6 L100.9,127.5 L100.3,127.3 L99.7,127.1 L99.1,126.9 L98.6,126.8 L98.0,126.6 L97.4,126.5 L96.8,126.3 L96.3,126.2 L95.7,126.0 L95.2,125.9 L94.6,125.7 L94.6,126.7" stroke="#0000ff"/>
<path d="M94.6,130.3 L95.2,129.1 L95.7,128.3 L96.3,127.6 L96.8,127.2 L97.4,126.8 L97.9,126.5 L98.5,126.2 L99.0,126.0 L99.6,125.7 L100.1,125.5 L100.7,125.4 L101.2,125.2 L101.8,125.0 L102.3,124.8 L102.9,124.6 L103.4,124.5 L104.0,124.3 L104.5,124.2 L105.1,124.0 L105.6,123.8 L106.2,123.7 L106.7,123.5 L107.3,123.4 L107.8,123.2 L108.4,123.1 L109.0,122.9 L109.5,122.8 L110.1,122.7 L110.6,122.5 L111.2,122.4 L111.7,122.2 L112.3,122.1 L112.8,122.0 L113.4,121.8 L113.9,121.7 L114.5,121.6 L115.0,121.4 L115.6,121.3 L116.1,121.2 L116.7,121.1 L117.2,120.9 L117.8,120.8 L118.3,120.7 L118.9,120.6 L119.4,120.4 L120.0,120.3 L120.5,120.2 L121.1,120.1 L121.6,120.0 L122.2,119.8 L122.7,119.7 L123.3,119.6 L123.8,119.5 L124.4,119.3 L124.9,119.2 L125.5,119.1 L126.0,119.0 L126.6,118.9 L127.1,118.7 L127.7,118.6 L128.2,118.5 L128.8,118.4 L129.3,118.2 L129.9,118.1 L130.4,118.0 L131.0,117.8 L131.6,117.7 L132.1,117.6 L132.7,117.4 L133.2,117.3 L133.8,117.2 L134.3,117.0 L134.9,116.9 L135.4,116.7 L136.0,116.6 L136.5,116.4 L137.1,116.3 L137.6,116.1 L138.2,115.9 L138.7,115.7 L139.3,115.6 L139.8,115.4 L140.4,115.2 L140.9,115.0 L141.5,114.8 L142.0,114.6 L142.6,114.4 L143.1,114.2 L143.7,114.0 L144.2,113.7 L144.8,113.5 L145.3,113.3 L145.9,113.0 L146.4,112.8 L147.0,112.5 L147.5,112.3 L148.1,112.0 L148.6,111.7 L149.2,111.4 L149.7,111.1 L150.3,110.8 L150.8,110.5 L151.4,110.2 L151.9,109.9 L152.5,109.6 L153.0,109.3 L153.6,108.9 L154.2,108.6 L154.7,108.2 L155.3,107.9 L155.8,107.5 L156.4,107.1 L156.9,106.8 L157.5,106.4 L158.0,106.0 L158.6,105.6 L159.1,105.2 L159.7,104.8 L160.2,104.4 L160.8,104.0 L161.3,103.6 L161.9,103.2 L162.4,102.7 L163.0,102.3 L163.6,101.9 L164.1,101.4 L164.7,101.0 L165.2,100.5 L165.8,100.1 L166.4,99.6 L166.9,99.2 L167.5,98.7 L168.0,98.2 L168.6,97.8 L169.2,97.3 L169.7,96.8 L170.3,96.3 L170.8,95.9 L171.4,95.4 L172.0,94.9 L172.5,94.4 L173.1,93.9 L173.7,93.4 L174.2,92.9 L174.8,92.4 L175.4,91.9 L175.9,91.4 L176.5,90.9 L177.1,90.4 L177.6,89.9 L178.2,89.4 L178.8,88.8 L179.3,88.3 L179.9,87.8 L180.5,87.3 L181.0,86.8 L181.6,86.3 L182.2,85.7 L182.8,85.2 L183.3,84.7 L183.9,84.2 L184.5,83.6 L185.0,83.1 L185.6,82.6 L186.2,82.1 L186.8,81.5 L187.3,81.0 L187.9,80.5 L188.5,80.0 L189.0,79.4 L189.6,78.9 L190.2,78.4 L190.8,77.8 L191.3,77.3 L191.9,76.8 L192.5,76.2 L193.0,75.7 L193.6,75.2 L194.2,74.7 L194.8,74.1 L195.3,73.6 L195.9,73.1 L196.5,72.6 L197.0,72.0 L197.6,71.5 L198.2,71.0 L198.8,70.5 L199.3,69.9 L199.9,69.4 L200.5,68.9 L201.0,68.4 L201.6,67.9 L202.2,67.4 L202.7,66.9 L203.3,66.4 L203.9,65.9 L204.4,65.4 L205.0,64.9 L205.6,64.4 L206.2,63.9 L206.7,63.4 L207.3,62.9 L207.9,62.4 L208.4,62.0 L209.0,61.5 L209.6,61.0 L210.1,60.6 L210.7,60.1 L211.2,59.7 L211.8,59.3 L212.4,58.8 L212.9,58.4 L213.5,58.0 L214.1,57.6 L214.6,57.2 L215.2,56.8 L215.7,56.5 L216.3,56.1 L216.9,55.8 L217.4,55.4 L218.0,55.1 L218.5,54.8 L219.1,54.5 L219.7,54.2 L220.2,54.0 L220.8,53.7 L221.3,53.5 L221.9,53.3 L222.4,53.1 L223.0,53.0 L223.6,52.8 L224.1,52.7 L224.7,52.6 L225.2,52.5 L225.8,52.5 L226.3,52.4 L226.9,52.5 L227.4,52.5 L228.0,52.5 L228.5,52.6 L229.0,52.7 L229.6,52.9 L230.1,53.1 L230.7,53.3 L231.2,53.5 L231.7,53.8 L232.3,54.0 L232.8,54.4 L233.3,54.7 L233.9,55.0 L234.4,55.4 L234.9,55.8 L235.5,56.2 L236.0,56.6 L236.5,57.1 L237.0,57.5 L237.6,58.0 L238.1,58.4 L238.6,58.9 L239.1,59.3 L239.6,59.8 L240.2,60.3 L240.7,60.7 L241.2,61.2 L241.7,61.6 L242.2,62.0 L242.7,62.4 L243.3,62.9 L243.8,63.3 L244.3,63.7 L244.8,64.0 L245.3,64.4 L245.8,64.8 L246.4,65.1 L246.9,65.5 L247.4,65.8 L247.9,66.2 L248.4,66.5 L248.9,66.8 L249.5,67.1 L250.0,67.4 L250.5,67.7 L251.0,67.9 L251.5,68.2 L252.1,68.5 L252.6,68.7 L253.1,69.0 L253.6,69.2 L254.2,69.4 L254.7,69.6 L255.2,69.9 L255.7,70.1 L256.3,70.3 L256.8,70.5 L257.3,70.7 L257.9,70.9 L258.4,71.1 L258.9,71.3 L259.5,71.4 L260.0,71.6 L260.6,71.8 L261.1,71.9 L261.6,72.1 L262.2,72.3 M262.2,75.6 L261.6,76.2 L261.1,76.7 L260.5,77.1 L260.0,77.4 L259.4,77.6 L258.9,77.8 L258.3,78.0 L257.8,78.2 L257.2,78.4 L256.7,78.5 L256.1,78.7 L255.6,78.9 L255.0,79.0 L254.5,79.1 L253.9,79.3 L253.4,79.4 L252.8,79.6 L252.3,79.7 L251.7,79.8 L251.2,80.0 L250.6,80.1 L250.1,80.2 L249.5,80.3 L249.0,80.5 L248.4,80.6 L247.8,80.7 L247.3,80.8 L246.7,80.9 L246.2,81.1 L245.6,81.2 L245.1,81.3 L244.5,81.4 L244.0,81.5 L243.4,81.6 L242.9,81.7 L242.3,81.9 L241.8,82.0 L241.2,82.1 L240.7,82.2 L240.1,82.3 L239.6,82.4 L239.0,82.5 L238.5,82.6 L237.9,82.7 L237.4,82.8 L236.8,82.9 L236.3,83.0 L235.7,83.1 L235.2,83.2 L234.6,83.3 L234.1,83.4 L233.5,83.5 L233.0,83.6 L232.4,83.7 L231.9,83.8 L231.3,83.9 L230.8,84.0 L230.2,84.1 L229.7,84.2 L229.1,84.3 L228.6,84.4 L228.0,84.5 L227.5,84.6 L226.9,84.7 L226.4,84.8 L225.8,84.9 L225.2,85.0 L224.7,85.1 L224.1,85.2 L223.6,85.3 L223.0,85.4 L222.5,85.5 L221.9,85.6 L221.4,85.7 L220.8,85.8 L220.3,85.9 L219.7,86.0 L219.2,86.2 L218.6,86.3 L218.1,86.4 L217.5,86.5 L217.0,86.6 L216.4,86.8 L215.9,86.9 L215.3,87.0 L214.8,87.2 L214.2,87.3 L213.7,87.4 L213.1,87.6 L212.6,87.7 L212.0,87.9 L211.5,88.0 L210.9,88.2 L210.4,88.4 L209.8,88.5 L209.3,88.7 L208.7,88.9 L208.2,89.1 L207.6,89.3 L207.1,89.5 L206.5,89.7 L206.0,89.9 L205.4,90.1 L204.9,90.4 L204.3,90.6 L203.8,90.8 L203.2,91.1 L202.6,91.3 L202.1,91.6 L201.5,91.9 L201.0,92.2 L200.4,92.4 L199.9,92.7 L199.3,93.0 L198.8,93.3 L198.2,93.7 L197.7,94.0 L197.1,94.3 L196.6,94.6 L196.0,95.0 L195.5,95.3 L194.9,95.7 L194.4,96.0 L193.8,96.4 L193.3,96.8 L192.7,97.2 L192.2,97.6 L191.6,97.9 L191.1,98.3 L190.6,98.7 L190.0,99.2 L189.5,99.6 L188.9,100.0 L188.4,100.4 L187.9,100.9 L187.3,101.3 L186.8,101.7 L186.2,102.2 L185.7,102.6 L185.2,103.1 L184.6,103.6 L184.1,104.0 L183.6,104.5 L183.0,105.0 L182.5,105.4 L182.0,105.9 L181.4,106.4 L180.9,106.9 L180.4,107.4 L179.9,107.9 L179.3,108.4 L178.8,108.9 L178.3,109.4 L177.8,109.9 L177.2,110.4 L176.7,110.9 L176.2,111.4 L175.7,111.9 L175.1,112.4 L174.6,113.0 L174.1,113.5 L173.6,114.0 L173.1,114.5 L172.5,115.1 L172.0,115.6 L171.5,116.1 L171.0,116.6 L170.5,117.2 L169.9,117.7 L169.4,118.2 L168.9,118.8 L168.4,119.3 L167.9,119.8 L167.4,120.4 L166.8,120.9 L166.3,121.4 L165.8,122.0 L165.3,122.5 L164.8,123.0 L164.3,123.6 L163.8,124.1 L163.2,124.6 L162.7,125.2 L162.2,125.7 L161.7,126.2 L161.2,126.7 L160.7,127.3 L160.1,127.8 L159.6,128.3 L159.1,128.8 L158.6,129.3 L158.1,129.9 L157.6,130.4 L157.0,130.9 L156.5,131.4 L156.0,131.9 L155.5,132.4 L155.0,132.9 L154.5,133.4 L153.9,133.9 L153.4,134.4 L152.9,134.9 L152.4,135.4 L151.9,135.8 L151.3,136.3 L150.8,136.8 L150.3,137.3 L149.8,137.7 L149.3,138.2 L148.7,138.6 L148.2,139.1 L147.7,139.5 L147.2,140.0 L146.6,140.4 L146.1,140.8 L145.6,141.2 L145.0,141.7 L144.5,142.1 L144.0,142.5 L143.5,142.9 L142.9,143.2 L142.4,143.6 L141.9,144.0 L141.3,144.4 L140.8,144.7 L140.3,145.1 L139.7,145.4 L139.2,145.7 L138.7,146.0 L138.1,146.3 L137.6,146.6 L137.0,146.9 L136.5,147.1 L136.0,147.4 L135.4,147.6 L134.9,147.8 L134.3,148.0 L133.8,148.2 L133.2,148.4 L132.7,148.5 L132.1,148.6 L131.6,148.7 L131.0,148.7 L130.5,148.8 L129.9,148.7 L129.4,148.7 L128.8,148.6 L128.3,148.5 L127.7,148.4 L127.1,148.2 L126.5,147.9 L126.0,147.7 L125.4,147.3 L124.8,147.0 L124.2,146.6 L123.6,146.1 L123.0,145.7 L122.4,145.2 L121.8,144.6 L121.2,144.1 L120.6,143.5 L120.0,142.9 L119.4,142.3 L118.8,141.8 L118.2,141.2 L117.5,140.6 L116.9,140.1 L116.3,139.5 L115.7,139.0 L115.1,138.5 L114.4,138.0 L113.8,137.6 L113.2,137.1 L112.6,136.7 L111.9,136.3 L111.3,135.9 L110.7,135.5 L110.1,135.2 L109.5,134.8 L108.8,134.5 L108.2,134.2 L107.6,133.9 L107.0,133.6 L106.4,133.3 L105.7,133.0 L105.1,132.8 L104.5,132.5 L103.9,132.3 L103.3,132.0 L102.7,131.8 L102.1,131.6 L101.5,131.3 L100.9,131.1 L100.3,130.9 L99.7,130.7 L99.2,130.5 L98.6,130.3 L98.0,130.1 L97.4,130.0 L96.9,129.8 L96.3,129.6 L95.7,129.4 L95.2,129.3 L94.6,129.1 L94.6,130.3" stroke="#ff00ff"/>
<path d="M94.6,133.9 L95.2,132.6 L95.7,131.6 L96.3,130.9 L96.8,130.3 L97.4,129.8 L97.9,129.4 L98.5,129.0 L99.0,128.7 L99.6,128.5 L100.1,128.2 L100.7,128.0 L101.2,127.7 L101.8,127.5 L102.3,127.3 L102.9,127.1 L103.4,126.9 L104.0,126.7 L104.5,126.5 L105.1,126.3 L105.6,126.2 L106.2,126.0 L106.7,125.8 L107.3,125.6 L107.8,125.5 L108.4,125.3 L109.0,125.1 L109.5,125.0 L110.1,124.8 L110.6,124.6 L111.2,124.5 L111.7,124.3 L112.3,124.2 L112.8,124.0 L113.4,123.9 L113.9,123.7 L114.5,123.6 L115.0,123.4 L115.6,123.3 L116.1,123.1 L116.7,123.0 L117.2,122.8 L117.8,122.7 L118.3,122.5 L118.9,122.4 L119.4,122.3 L120.0,122.1 L120.5,122.0 L121.1,121.8 L121.6,121.7 L122.2,121.6 L122.7,121.4 L123.3,121.3 L123.8,121.1 L124.4,121.0 L124.9,120.9 L125.5,120.7 L126.0,120.6 L126.6,120.4 L127.1,120.3 L127.7,120.2 L128.2,120.0 L128.8,119.9 L129.3,119.7 L129.9,119.6 L130.4,119.4 L131.0,119.3 L131.6,119.1 L132.1,119.0 L132.7,118.8 L133.2,118.6 L133.8,118.5 L134.3,118.3 L134.9,118.1 L135.4,118.0 L136.0,117.8 L136.5,117.6 L137.1,117.4 L137.6,117.2 L138.2,117.0 L138.7,116.8 L139.3,116.6 L139.8,116.4 L140.4,116.2 L140.9,116.0 L141.5,115.8 L142.0,115.5 L142.6,115.3 L143.1,115.1 L143.7,114.8 L144.2,114.6 L144.8,114.3 L145.3,114.0 L145.9,113.8 L146.4,113.5 L147.0,113.2 L147.5,112.9 L148.1,112.6 L148.6,112.3 L149.2,112.0 L149.7,111.7 L150.3,111.4 L150.8,111.0 L151.4,110.7 L151.9,110.3 L152.5,110.0 L153.0,109.6 L153.6,109.3 L154.2,108.9 L154.7,108.5 L155.3,108.2 L155.8,107.8 L156.4,107.4 L156.9,107.0 L157.5,106.6 L158.0,106.2 L158.6,105.8 L159.1,105.4 L159.7,104.9 L160.2,104.5 L160.8,104.1 L161.3,103.6 L161.9,103.2 L162.4,102.8 L163.0,102.3 L163.5,101.8 L164.1,101.4 L164.6,100.9 L165.2,100.5 L165.8,100.0 L166.3,99.5 L166.9,99.0 L167.4,98.6 L168.0,98.1 L168.5,97.6 L169.1,97.1 L169.7,96.6 L170.2,96.1 L170.8,95.6 L171.3,95.1 L171.9,94.6 L172.5,94.1 L173.0,93.6 L173.6,93.1 L174.2,92.6 L174.7,92.1 L175.3,91.6 L175.8,91.0 L176.4,90.5 L177.0,90.0 L177.5,89.5 L178.1,89.0 L178.7,88.4 L179.2,87.9 L179.8,87.4 L180.4,86.8 L180.9,86.3 L181.5,85.8 L182.1,85.2 L182.6,84.7 L183.2,84.2 L183.8,83.6 L184.3,83.1 L184.9,82.6 L185.5,82.0 L186.0,81.5 L186.6,81.0 L187.2,80.4 L187.8,79.9 L188.3,79.3 L188.9,78.8 L189.5,78.3 L190.0,77.7 L190.6,77.2 L191.2,76.7 L191.7,76.1 L192.3,75.6 L192.9,75.0 L193.4,74.5 L194.0,74.0 L194.6,73.4 L195.2,72.9 L195.7,72.4 L196.3,71.8 L196.9,71.3 L197.4,70.8 L198.0,70.2 L198.6,69.7 L199.1,69.2 L199.7,68.7 L200.3,68.1 L200.8,67.6 L201.4,67.1 L202.0,66.6 L202.5,66.1 L203.1,65.6 L203.7,65.0 L204.3,64.5 L204.8,64.0 L205.4,63.5 L206.0,63.0 L206.5,62.5 L207.1,62.0 L207.7,61.6 L208.2,61.1 L208.8,60.6 L209.4,60.1 L209.9,59.7 L210.5,59.2 L211.0,58.7 L211.6,58.3 L212.2,57.8 L212.7,57.4 L213.3,57.0 L213.9,56.6 L214.4,56.1 L215.0,55.7 L215.5,55.3 L216.1,54.9 L216.7,54.6 L217.2,54.2 L217.8,53.8 L218.3,53.5 L218.9,53.2 L219.5,52.8 L220.0,52.5 L220.6,52.2 L221.1,51.9 L221.7,51.7 L222.3,51.4 L222.8,51.2 L223.4,51.0 L223.9,50.8 L224.5,50.6 L225.0,50.5 L225.6,50.3 L226.1,50.2 L226.7,50.1 L227.2,50.0 L227.8,50.0 L228.3,50.0 L228.9,50.0 L229.4,50.0 L230.0,50.1 L230.5,50.2 L231.1,50.3 L231.6,50.4 L232.2,50.6 L232.7,50.8 L233.2,51.0 L233.8,51.3 L234.3,51.5 L234.8,51.8 L235.4,52.2 L235.9,52.5 L236.4,52.9 L237.0,53.3 L237.5,53.7 L238.0,54.1 L238.5,54.5 L239.1,54.9 L239.6,55.4 L240.1,55.8 L240.6,56.3 L241.2,56.7 L241.7,57.2 L242.2,57.7 L242.7,58.1 L243.2,58.6 L243.8,59.0 L244.3,59.4 L244.8,59.9 L245.3,60.3 L245.8,60.7 L246.3,61.1 L246.9,61.5 L247.4,61.9 L247.9,62.2 L248.4,62.6 L248.9,62.9 L249.5,63.3 L250.0,63.6 L250.5,63.9 L251.0,64.3 L251.5,64.6 L252.1,64.9 L252.6,65.2 L253.1,65.4 L253.6,65.7 L254.2,66.0 L254.7,66.2 L255.2,66.5 L255.7,66.7 L256.3,67.0 L256.8,67.2 L257.3,67.4 L257.9,67.7 L258.4,67.9 L258.9,68.1 L259.5,68.3 L260.0,68.5 L260.6,68.7 L261.1,68.9 L261.6,69.1 L262.2,69.2 M262.2,72.9 L261.6,73.6 L261.1,74.2 L260.5,74.7 L260.0,75.0 L259.4,75.4 L258.9,75.6 L258.3,75.9 L257.8,76.1 L257.2,76.3 L256.7,76.5 L256.1,76.7 L255.6,76.9 L255.0,77.0 L254.5,77.2 L253.9,77.4 L253.4,77.5 L252.8,77.7 L252.3,77.8 L251.7,78.0 L251.2,78.1 L250.6,78.3 L250.1,78.4 L249.5,78.6 L249.0,78.7 L248.4,78.8 L247.8,79.0 L247.3,79.1 L246.7,79.2 L246.2,79.4 L245.6,79.5 L245.1,79.6 L244.5,79.8 L244.0,79.9 L243.4,80.0 L242.9,80.1 L242.3,80.3 L241.8,80.4 L241.2,80.5 L240.7,80.6 L240.1,80.7 L239.6,80.9 L239.0,81.0 L238.5,81.1 L237.9,81.2 L237.4,81.3 L236.8,81.4 L236.3,81.6 L235.7,81.7 L235.2,81.8 L234.6,81.9 L234.1,82.0 L233.5,82.1 L233.0,82.2 L232.4,82.3 L231.9,82.4 L231.3,82.6 L230.8,82.7 L230.2,82.8 L229.7,82.9 L229.1,83.0 L228.6,83.1 L228.0,83.2 L227.5,83.3 L226.9,83.4 L226.4,83.5 L225.8,83.7 L225.2,83.8 L224.7,83.9 L224.1,84.0 L223.6,84.1 L223.0,84.2 L222.5,84.3 L221.9,84.5 L221.4,84.6 L220.8,84.7 L220.3,84.8 L219.7,84.9 L219.2,85.1 L218.6,85.2 L218.1,85.3 L217.5,85.5 L217.0,85.6 L216.4,85.7 L215.9,85.9 L215.3,86.0 L214.8,86.2 L214.2,86.3 L213.7,86.5 L213.1,86.6 L212.6,86.8 L212.0,87.0 L211.5,87.1 L210.9,87.3 L210.4,87.5 L209.8,87.7 L209.3,87.9 L208.7,88.1 L208.2,88.3 L207.6,88.5 L207.1,88.7 L206.5,88.9 L206.0,89.1 L205.4,89.4 L204.9,89.6 L204.3,89.9 L203.8,90.1 L203.2,90.4 L202.6,90.6 L202.1,90.9 L201.5,91.2 L201.0,91.5 L200.4,91.8 L199.9,92.1 L199.3,92.4 L198.8,92.7 L198.2,93.1 L197.7,93.4 L197.1,93.7 L196.6,94.1 L196.0,94.4 L195.5,94.8 L194.9,95.2 L194.4,95.5 L193.8,95.9 L193.3,96.3 L192.7,96.7 L192.2,97.1 L191.6,97.5 L191.1,97.9 L190.5,98.3 L190.0,98.7 L189.4,99.2 L188.9,99.6 L188.3,100.0 L187.8,100.5 L187.3,100.9 L186.7,101.4 L186.2,101.8 L185.6,102.3 L185.1,102.8 L184.6,103.2 L184.0,103.7 L183.5,104.2 L183.0,104.7 L182.4,105.2 L181.9,105.6 L181.4,106.1 L180.8,106.6 L180.3,107.1 L179.8,107.6 L179.2,108.1 L178.7,108.7 L178.2,109.2 L177.7,109.7 L177.1,110.2 L176.6,110.7 L176.1,111.2 L175.6,111.8 L175.1,112.3 L174.5,112.8 L174.0,113.4 L173.5,113.9 L173.0,114.4 L172.5,115.0 L171.9,115.5 L171.4,116.0 L170.9,116.6 L170.4,117.1 L169.9,117.7 L169.4,118.2 L168.8,118.7 L168.3,119.3 L167.8,119.8 L167.3,120.4 L166.8,120.9 L166.3,121.5 L165.8,122.0 L165.2,122.6 L164.7,123.1 L164.2,123.7 L163.7,124.2 L163.2,124.8 L162.7,125.3 L162.2,125.9 L161.7,126.4 L161.1,127.0 L160.6,127.5 L160.1,128.0 L159.6,128.6 L159.1,129.1 L158.6,129.7 L158.1,130.2 L157.6,130.7 L157.0,131.3 L156.5,131.8 L156.0,132.3 L155.5,132.8 L155.0,133.4 L154.5,133.9 L154.0,134.4 L153.5,134.9 L152.9,135.4 L152.4,135.9 L151.9,136.5 L151.4,137.0 L150.9,137.5 L150.4,138.0 L149.9,138.4 L149.3,138.9 L148.8,139.4 L148.3,139.9 L147.8,140.4 L147.3,140.9 L146.7,141.3 L146.2,141.8 L145.7,142.2 L145.2,142.7 L144.7,143.1 L144.1,143.6 L143.6,144.0 L143.1,144.4 L142.6,144.9 L142.0,145.3 L141.5,145.7 L141.0,146.1 L140.4,146.5 L139.9,146.9 L139.4,147.2 L138.9,147.6 L138.3,148.0 L137.8,148.3 L137.3,148.6 L136.7,149.0 L136.2,149.3 L135.6,149.6 L135.1,149.9 L134.6,150.2 L134.0,150.4 L133.5,150.7 L132.9,150.9 L132.4,151.1 L131.9,151.3 L131.3,151.5 L130.8,151.7 L130.2,151.8 L129.7,151.9 L129.1,152.0 L128.6,152.0 L128.0,152.1 L127.5,152.1 L126.9,152.0 L126.4,152.0 L125.8,151.8 L125.2,151.7 L124.6,151.5 L124.0,151.3 L123.5,151.0 L122.9,150.7 L122.3,150.3 L121.7,149.9 L121.1,149.5 L120.5,149.0 L119.9,148.5 L119.2,147.9 L118.6,147.4 L118.0,146.8 L117.4,146.2 L116.7,145.6 L116.1,145.0 L115.5,144.4 L114.9,143.8 L114.2,143.2 L113.6,142.6 L112.9,142.1 L112.3,141.6 L111.7,141.1 L111.0,140.6 L110.4,140.1 L109.8,139.6 L109.1,139.2 L108.5,138.8 L107.8,138.4 L107.2,138.0 L106.6,137.6 L105.9,137.3 L105.3,136.9 L104.7,136.6 L104.1,136.3 L103.4,136.0 L102.8,135.7 L102.2,135.4 L101.6,135.1 L101.0,134.9 L100.4,134.6 L99.8,134.4 L99.2,134.1 L98.6,133.9 L98.0,133.7 L97.4,133.4 L96.9,133.2 L96.3,133.0 L95.7,132.8 L95.2,132.6 L94.6,132.4 L94.6,133.9" stroke="#00ffff"/>
<path d="M94.6,137.5 L95.2,136.1 L95.7,135.0 L96.3,134.1 L96.8,133.4 L97.4,132.8 L97.9,132.3 L98.5,131.9 L99.0,131.5 L99.6,131.2 L100.1,130.9 L100.7,130.6 L101.2,130.3 L101.8,130.0 L102.3,129.8 L102.9,129.5 L103.4,129.3 L104.0,129.1 L104.5,128.9 L105.1,128.7 L105.6,128.4 L106.2,128.2 L106.7,128.0 L107.3,127.8 L107.8,127.6 L108.4,127.4 L109.0,127.3 L109.5,127.1 L110.1,126.9 L110.6,126.7 L111.2,126.5 L111.7,126.3 L112.3,126.2 L112.8,126.0 L113.4,125.8 L113.9,125.6 L114.5,125.5 L115.0,125.3 L115.6,125.1 L116.1,125.0 L116.7,124.8 L117.2,124.6 L117.8,124.5 L118.3,124.3 L118.9,124.1 L119.4,124.0 L120.0,123.8 L120.5,123.7 L121.1,123.5 L121.6,123.4 L122.2,123.2 L122.7,123.0 L123.3,122.9 L123.8,122.7 L124.4,122.6 L124.9,122.4 L125.5,122.2 L126.0,122.1 L126.6,121.9 L127.1,121.8 L127.7,121.6 L128.2,121.4 L128.8,121.3 L129.3,121.1 L129.9,120.9 L130.4,120.8 L131.0,120.6 L131.6,120.4 L132.1,120.2 L132.7,120.1 L133.2,119.9 L133.8,119.7 L134.3,119.5 L134.9,119.3 L135.4,119.1 L136.0,118.9 L136.5,118.7 L137.1,118.5 L137.6,118.3 L138.2,118.1 L138.7,117.8 L139.3,117.6 L139.8,117.4 L140.4,117.1 L140.9,116.9 L141.5,116.6 L142.0,116.4 L142.6,116.1 L143.1,115.8 L143.7,115.6 L144.2,115.3 L144.8,115.0 L145.3,114.7 L145.9,114.4 L146.4,114.1 L147.0,113.8 L147.5,113.5 L148.1,113.2 L148.6,112.8 L149.2,112.5 L149.7,112.1 L150.3,111.8 L150.8,111.4 L151.4,111.1 L151.9,110.7 L152.5,110.3 L153.0,110.0 L153.6,109.6 L154.2,109.2 L154.7,108.8 L155.3,108.4 L155.8,108.0 L156.4,107.6 L156.9,107.2 L157.5,106.7 L158.0,106.3 L158.6,105.9 L159.1,105.4 L159.7,105.0 L160.2,104.6 L160.8,104.1 L161.3,103.7 L161.9,103.2 L162.4,102.7 L163.0,102.3 L163.5,101.8 L164.1,101.3 L164.6,100.9 L165.2,100.4 L165.7,99.9 L166.3,99.4 L166.8,98.9 L167.4,98.4 L167.9,97.9 L168.5,97.4 L169.0,96.9 L169.6,96.4 L170.1,95.9 L170.7,95.4 L171.2,94.9 L171.8,94.4 L172.4,93.8 L172.9,93.3 L173.5,92.8 L174.0,92.3 L174.6,91.8 L175.1,91.2 L175.7,90.7 L176.2,90.2 L176.8,89.6 L177.3,89.1 L177.9,88.6 L178.4,88.0 L179.0,87.5 L179.5,87.0 L180.1,86.4 L180.6,85.9 L181.2,85.3 L181.7,84.8 L182.3,84.2 L182.8,83.7 L183.4,83.1 L184.0,82.6 L184.5,82.1 L185.1,81.5 L185.6,81.0 L186.2,80.4 L186.7,79.9 L187.3,79.3 L187.8,78.8 L188.4,78.2 L188.9,77.7 L189.5,77.1 L190.0,76.6 L190.6,76.0 L191.1,75.5 L191.7,74.9 L192.2,74.4 L192.8,73.8 L193.3,73.3 L193.9,72.8 L194.5,72.2 L195.0,71.7 L195.6,71.1 L196.1,70.6 L196.7,70.1 L197.2,69.5 L197.8,69.0 L198.3,68.5 L198.9,67.9 L199.4,67.4 L200.0,66.9 L200.5,66.4 L201.1,65.8 L201.6,65.3 L202.2,64.8 L202.7,64.3 L203.3,63.8 L203.9,63.3 L204.4,62.8 L205.0,62.3 L205.5,61.8 L206.1,61.3 L206.6,60.8 L207.2,60.3 L207.7,59.9 L208.3,59.4 L208.8,58.9 L209.4,58.5 L209.9,58.0 L210.5,57.5 L211.0,57.1 L211.6,56.7 L212.1,56.2 L212.7,55.8 L213.2,55.4 L213.8,55.0 L214.4,54.5 L214.9,54.1 L215.5,53.8 L216.0,53.4 L216.6,53.0 L217.1,52.6 L217.7,52.3 L218.2,51.9 L218.8,51.6 L219.3,51.3 L219.9,51.0 L220.4,50.7 L221.0,50.4 L221.5,50.1 L222.1,49.9 L222.6,49.6 L223.2,49.4 L223.7,49.2 L224.3,49.0 L224.8,48.8 L225.4,48.7 L225.9,48.5 L226.5,48.4 L227.0,48.3 L227.6,48.2 L228.1,48.2 L228.7,48.2 L229.2,48.2 L229.8,48.2 L230.4,48.2 L230.9,48.3 L231.5,48.4 L232.0,48.5 L232.6,48.6 L233.1,48.8 L233.7,49.0 L234.2,49.2 L234.8,49.5 L235.3,49.8 L235.9,50.0 L236.4,50.4 L236.9,50.7 L237.5,51.1 L238.0,51.4 L238.6,51.8 L239.1,52.2 L239.7,52.6 L240.2,53.0 L240.8,53.5 L241.3,53.9 L241.9,54.3 L242.4,54.8 L243.0,55.2 L243.5,55.6 L244.1,56.1 L244.6,56.5 L245.2,56.9 L245.7,57.4 L246.3,57.8 L246.8,58.2 L247.4,58.6 L247.9,59.0 L248.5,59.3 L249.0,59.7 L249.6,60.1 L250.1,60.4 L250.7,60.8 L251.2,61.1 L251.8,61.4 L252.3,61.8 L252.8,62.1 L253.4,62.4 L253.9,62.7 L254.5,63.0 L255.0,63.2 L255.6,63.5 L256.1,63.8 L256.7,64.0 L257.2,64.3 L257.8,64.5 L258.3,64.8 L258.9,65.0 L259.4,65.2 L260.0,65.5 L260.5,65.7 L261.1,65.9 L261.6,66.1 L262.2,66.3 M262.2,70.2 L261.6,71.0 L261.1,71.7 L260.5,72.3 L260.0,72.7 L259.4,73.1 L258.9,73.4 L258.3,73.7 L257.8,74.0 L257.2,74.3 L256.7,74.5 L256.1,74.7 L255.6,74.9 L255.0,75.1 L254.5,75.3 L253.9,75.5 L253.4,75.7 L252.8,75.9 L252.3,76.0 L251.7,76.2 L251.2,76.4 L250.6,76.5 L250.1,76.7 L249.5,76.9 L249.0,77.0 L248.4,77.2 L247.8,77.3 L247.3,77.5 L246.7,77.6 L246.2,77.8 L245.6,77.9 L245.1,78.0 L244.5,78.2 L244.0,78.3 L243.4,78.5 L242.9,78.6 L242.3,78.7 L241.8,78.9 L241.2,79.0 L240.7,79.1 L240.1,79.3 L239.6,79.4 L239.0,79.5 L238.5,79.7 L237.9,79.8 L237.4,79.9 L236.8,80.0 L236.3,80.2 L235.7,80.3 L235.2,80.4 L234.6,80.5 L234.1,80.7 L233.5,80.8 L233.0,80.9 L232.4,81.0 L231.9,81.1 L231.3,81.3 L230.8,81.4 L230.2,81.5 L229.7,81.6 L229.1,81.8 L228.6,81.9 L228.0,82.0 L227.5,82.1 L226.9,82.2 L226.4,82.4 L225.8,82.5 L225.2,82.6 L224.7,82.7 L224.1,82.8 L223.6,83.0 L223.0,83.1 L222.5,83.2 L221.9,83.4 L221.4,83.5 L220.8,83.6 L220.3,83.7 L219.7,83.9 L219.2,84.0 L218.6,84.2 L218.1,84.3 L217.5,84.4 L217.0,84.6 L216.4,84.7 L215.9,84.9 L215.3,85.0 L214.8,85.2 L214.2,85.4 L213.7,85.5 L213.1,85.7 L212.6,85.9 L212.0,86.1 L211.5,86.2 L210.9,86.4 L210.4,86.6 L209.8,86.8 L209.3,87.0 L208.7,87.2 L208.2,87.5 L207.6,87.7 L207.1,87.9 L206.5,88.1 L206.0,88.4 L205.4,88.6 L204.9,88.9 L204.3,89.1 L203.8,89.4 L203.2,89.7 L202.6,90.0 L202.1,90.3 L201.5,90.5 L201.0,90.8 L200.4,91.2 L199.9,91.5 L199.3,91.8 L198.8,92.1 L198.2,92.5 L197.7,92.8 L197.1,93.2 L196.6,93.5 L196.0,93.9 L195.5,94.3 L194.9,94.6 L194.4,95.0 L193.8,95.4 L193.3,95.8 L192.7,96.2 L192.2,96.6 L191.6,97.0 L191.1,97.4 L190.5,97.9 L190.0,98.3 L189.4,98.7 L188.9,99.2 L188.3,99.6 L187.8,100.1 L187.2,100.5 L186.7,101.0 L186.1,101.5 L185.6,101.9 L185.1,102.4 L184.5,102.9 L184.0,103.4 L183.4,103.9 L182.9,104.4 L182.4,104.8 L181.8,105.3 L181.3,105.8 L180.8,106.4 L180.2,106.9 L179.7,107.4 L179.2,107.9 L178.6,108.4 L178.1,108.9 L177.6,109.4 L177.1,110.0 L176.5,110.5 L176.0,111.0 L175.5,111.6 L175.0,112.1 L174.4,112.6 L173.9,113.2 L173.4,113.7 L172.9,114.3 L172.4,114.8 L171.9,115.4 L171.3,115.9 L170.8,116.5 L170.3,117.0 L169.8,117.6 L169.3,118.1 L168.8,118.7 L168.3,119.2 L167.7,119.8 L167.2,120.3 L166.7,120.9 L166.2,121.5 L165.7,122.0 L165.2,122.6 L164.7,123.1 L164.2,123.7 L163.7,124.3 L163.2,124.8 L162.7,125.4 L162.2,125.9 L161.6,126.5 L161.1,127.1 L160.6,127.6 L160.1,128.2 L159.6,128.7 L159.1,129.3 L158.6,129.8 L158.1,130.4 L157.6,130.9 L157.1,131.5 L156.6,132.0 L156.1,132.5 L155.6,133.1 L155.1,133.6 L154.6,134.1 L154.1,134.7 L153.6,135.2 L153.0,135.7 L152.5,136.2 L152.0,136.7 L151.5,137.2 L151.0,137.8 L150.5,138.3 L150.0,138.8 L149.5,139.3 L149.0,139.7 L148.5,140.2 L148.0,140.7 L147.4,141.2 L146.9,141.7 L146.4,142.1 L145.9,142.6 L145.4,143.1 L144.9,143.5 L144.4,143.9 L143.8,144.4 L143.3,144.8 L142.8,145.3 L142.3,145.7 L141.8,146.1 L141.3,146.5 L140.7,146.9 L140.2,147.3 L139.7,147.7 L139.2,148.1 L138.6,148.5 L138.1,148.8 L137.6,149.2 L137.1,149.5 L136.5,149.9 L136.0,150.2 L135.5,150.5 L134.9,150.9 L134.4,151.2 L133.9,151.4 L133.3,151.7 L132.8,152.0 L132.3,152.3 L131.7,152.5 L131.2,152.7 L130.7,152.9 L130.1,153.1 L129.6,153.3 L129.0,153.5 L128.5,153.6 L127.9,153.7 L127.4,153.8 L126.8,153.9 L126.3,153.9 L125.7,153.9 L125.2,153.9 L124.6,153.9 L124.1,153.8 L123.5,153.7 L122.9,153.5 L122.3,153.3 L121.7,153.1 L121.1,152.8 L120.5,152.5 L119.9,152.1 L119.3,151.7 L118.7,151.3 L118.0,150.8 L117.4,150.3 L116.8,149.8 L116.1,149.2 L115.5,148.7 L114.8,148.1 L114.2,147.5 L113.5,146.9 L112.9,146.4 L112.2,145.8 L111.5,145.2 L110.9,144.7 L110.2,144.1 L109.5,143.6 L108.9,143.1 L108.2,142.7 L107.6,142.2 L106.9,141.8 L106.3,141.4 L105.6,140.9 L104.9,140.6 L104.3,140.2 L103.7,139.8 L103.0,139.5 L102.4,139.2 L101.7,138.8 L101.1,138.5 L100.5,138.2 L99.9,137.9 L99.3,137.7 L98.7,137.4 L98.1,137.1 L97.5,136.9 L96.9,136.6 L96.3,136.4 L95.7,136.2 L95.2,135.9 L94.6,135.7 L94.6,137.5" stroke="#c0c0c0"/>
<path d="M94.6,141.2 L95.2,139.7 L95.7,138.5 L96.3,137.5 L96.8,136.6 L97.4,135.9 L97.9,135.3 L98.5,134.8 L99.0,134.3 L99.6,133.9 L100.1,133.5 L100.7,133.2 L101.2,132.9 L101.8,132.6 L102.3,132.3 L102.9,132.0 L103.4,131.7 L104.0,131.4 L104.5,131.2 L105.1,130.9 L105.6,130.7 L106.2,130.5 L106.7,130.2 L107.3,130.0 L107.8,129.8 L108.4,129.5 L109.0,129.3 L109.5,129.1 L110.1,128.9 L110.6,128.7 L111.2,128.5 L111.7,128.3 L112.3,128.1 L112.8,127.9 L113.4,127.7 L113.9,127.5 L114.5,127.3 L115.0,127.1 L115.6,126.9 L116.1,126.7 L116.7,126.6 L117.2,126.4 L117.8,126.2 L118.3,126.0 L118.9,125.8 L119.4,125.6 L120.0,125.5 L120.5,125.3 L121.1,125.1 L121.6,124.9 L122.2,124.8 L122.7,124.6 L123.3,124.4 L123.8,124.2 L124.4,124.0 L124.9,123.9 L125.5,123.7 L126.0,123.5 L126.6,123.3 L127.1,123.1 L127.7,123.0 L128.2,122.8 L128.8,122.6 L129.3,122.4 L129.9,122.2 L130.4,122.0 L131.0,121.8 L131.6,121.6 L132.1,121.4 L132.7,121.2 L133.2,121.0 L133.8,120.8 L134.3,120.6 L134.9,120.4 L135.4,120.2 L136.0,119.9 L136.5,119.7 L137.1,119.5 L137.6,119.2 L138.2,119.0 L138.7,118.7 L139.3,118.5 L139.8,118.2 L140.4,117.9 L140.9,117.7 L141.5,117.4 L142.0,117.1 L142.6,116.8 L143.1,116.5 L143.7,116.2 L144.2,115.9 L144.8,115.6 L145.3,115.3 L145.9,115.0 L146.4,114.6 L147.0,114.3 L147.5,114.0 L148.1,113.6 L148.6,113.3 L149.2,112.9 L149.7,112.5 L150.3,112.2 L150.8,111.8 L151.4,111.4 L151.9,111.0 L152.5,110.6 L153.0,110.2 L153.6,109.8 L154.2,109.4 L154.7,109.0 L155.3,108.6 L155.8,108.2 L156.4,107.7 L156.9,107.3 L157.5,106.8 L158.0,106.4 L158.6,106.0 L159.1,105.5 L159.7,105.0 L160.2,104.6 L160.8,104.1 L161.3,103.6 L161.9,103.2 L162.4,102.7 L163.0,102.2 L163.5,101.7 L164.1,101.2 L164.6,100.8 L165.2,100.3 L165.7,99.8 L166.3,99.3 L166.8,98.8 L167.4,98.3 L167.9,97.7 L168.5,97.2 L169.0,96.7 L169.6,96.2 L170.1,95.7 L170.7,95.2 L171.2,94.6 L171.8,94.1 L172.3,93.6 L172.9,93.0 L173.4,92.5 L174.0,92.0 L174.6,91.4 L175.1,90.9 L175.7,90.4 L176.2,89.8 L176.8,89.3 L177.3,88.7 L177.9,88.2 L178.4,87.6 L179.0,87.1 L179.5,86.5 L180.1,86.0 L180.6,85.4 L181.2,84.9 L181.7,84.3 L182.3,83.8 L182.8,83.2 L183.4,82.7 L183.9,82.1 L184.5,81.6 L185.0,81.0 L185.6,80.4 L186.1,79.9 L186.7,79.3 L187.2,78.8 L187.8,78.2 L188.3,77.7 L188.9,77.1 L189.4,76.5 L190.0,76.0 L190.6,75.4 L191.1,74.9 L191.7,74.3 L192.2,73.8 L192.8,73.2 L193.3,72.7 L193.9,72.1 L194.4,71.6 L195.0,71.0 L195.5,70.5 L196.1,69.9 L196.6,69.4 L197.2,68.8 L197.7,68.3 L198.3,67.7 L198.8,67.2 L199.4,66.6 L199.9,66.1 L200.5,65.6 L201.0,65.0 L201.6,64.5 L202.1,64.0 L202.7,63.4 L203.2,62.9 L203.8,62.4 L204.4,61.9 L204.9,61.3 L205.5,60.8 L206.0,60.3 L206.6,59.8 L207.1,59.3 L207.7,58.8 L208.2,58.3 L208.8,57.8 L209.3,57.3 L209.9,56.9 L210.4,56.4 L211.0,55.9 L211.5,55.4 L212.1,55.0 L212.6,54.5 L213.2,54.1 L213.7,53.6 L214.3,53.2 L214.8,52.8 L215.4,52.3 L215.9,51.9 L216.5,51.5 L217.0,51.1 L217.6,50.7 L218.1,50.3 L218.7,50.0 L219.2,49.6 L219.8,49.3 L220.4,48.9 L220.9,48.6 L221.5,48.3 L222.0,48.0 L222.6,47.7 L223.1,47.4 L223.7,47.1 L224.2,46.9 L224.8,46.6 L225.3,46.4 L225.9,46.2 L226.4,46.0 L227.0,45.9 L227.5,45.7 L228.1,45.6 L228.6,45.5 L229.2,45.4 L229.7,45.4 L230.3,45.3 L230.8,45.3 L231.4,45.3 L231.9,45.4 L232.5,45.4 L233.0,45.5 L233.6,45.6 L234.1,45.8 L234.7,46.0 L235.2,46.1 L235.8,46.4 L236.3,46.6 L236.9,46.9 L237.4,47.2 L238.0,47.5 L238.5,47.8 L239.1,48.1 L239.6,48.5 L240.2,48.9 L240.7,49.3 L241.3,49.7 L241.8,50.1 L242.4,50.6 L242.9,51.0 L243.5,51.4 L244.0,51.9 L244.6,52.3 L245.1,52.8 L245.7,53.2 L246.2,53.7 L246.8,54.1 L247.3,54.5 L247.9,55.0 L248.4,55.4 L249.0,55.8 L249.5,56.2 L250.1,56.6 L250.6,57.0 L251.2,57.4 L251.7,57.8 L252.3,58.1 L252.8,58.5 L253.4,58.9 L253.9,59.2 L254.5,59.5 L255.0,59.8 L255.6,60.2 L256.1,60.5 L256.7,60.8 L257.2,61.1 L257.8,61.3 L258.3,61.6 L258.9,61.9 L259.4,62.1 L260.0,62.4 L260.5,62.6 L261.1,62.9 L261.6,63.1 L262.2,63.3 M262.2,67.5 L261.6,68.4 L261.1,69.2 L260.5,69.9 L260.0,70.4 L259.4,70.9 L258.9,71.3 L258.3,71.6 L257.8,71.9 L257.2,72.2 L256.7,72.5 L256.1,72.8 L255.6,73.0 L255.0,73.2 L254.5,73.5 L253.9,73.7 L253.4,73.9 L252.8,74.1 L252.3,74.3 L251.7,74.5 L251.2,74.7 L250.6,74.8 L250.1,75.0 L249.5,75.2 L249.0,75.4 L248.4,75.5 L247.8,75.7 L247.3,75.9 L246.7,76.0 L246.2,76.2 L245.6,76.4 L245.1,76.5 L244.5,76.7 L244.0,76.8 L243.4,77.0 L242.9,77.1 L242.3,77.3 L241.8,77.4 L241.2,77.6 L240.7,77.7 L240.1,77.9 L239.6,78.0 L239.0,78.1 L238.5,78.3 L237.9,78.4 L237.4,78.6 L236.8,78.7 L236.3,78.8 L235.7,79.0 L235.2,79.1 L234.6,79.2 L234.1,79.4 L233.5,79.5 L233.0,79.6 L232.4,79.8 L231.9,79.9 L231.3,80.0 L230.8,80.2 L230.2,80.3 L229.7,80.4 L229.1,80.6 L228.6,80.7 L228.0,80.8 L227.5,81.0 L226.9,81.1 L226.4,81.2 L225.8,81.4 L225.2,81.5 L224.7,81.6 L224.1,81.8 L223.6,81.9 L223.0,82.0 L222.5,82.2 L221.9,82.3 L221.4,82.4 L220.8,82.6 L220.3,82.7 L219.7,82.9 L219.2,83.0 L218.6,83.2 L218.1,83.3 L217.5,83.5 L217.0,83.6 L216.4,83.8 L215.9,84.0 L215.3,84.1 L214.8,84.3 L214.2,84.5 L213.7,84.7 L213.1,84.8 L212.6,85.0 L212.0,85.2 L211.5,85.4 L210.9,85.6 L210.4,85.8 L209.8,86.0 L209.3,86.2 L208.7,86.5 L208.2,86.7 L207.6,86.9 L207.1,87.2 L206.5,87.4 L206.0,87.7 L205.4,87.9 L204.9,88.2 L204.3,88.4 L203.8,88.7 L203.2,89.0 L202.6,89.3 L202.1,89.6 L201.5,89.9 L201.0,90.2 L200.4,90.5 L199.9,90.9 L199.3,91.2 L198.8,91.5 L198.2,91.9 L197.7,92.2 L197.1,92.6 L196.6,93.0 L196.0,93.3 L195.5,93.7 L194.9,94.1 L194.4,94.5 L193.8,94.9 L193.3,95.3 L192.7,95.7 L192.2,96.1 L191.6,96.6 L191.1,97.0 L190.5,97.4 L190.0,97.9 L189.4,98.3 L188.9,98.8 L188.3,99.2 L187.8,99.7 L187.2,100.1 L186.7,100.6 L186.1,101.1 L185.6,101.6 L185.0,102.1 L184.5,102.5 L183.9,103.0 L183.4,103.5 L182.9,104.0 L182.3,104.5 L181.8,105.0 L181.2,105.5 L180.7,106.1 L180.2,106.6 L179.6,107.1 L179.1,107.6 L178.6,108.1 L178.0,108.7 L177.5,109.2 L177.0,109.7 L176.4,110.3 L175.9,110.8 L175.4,111.3 L174.9,111.9 L174.3,112.4 L173.8,113.0 L173.3,113.5 L172.8,114.1 L172.3,114.6 L171.7,115.2 L171.2,115.7 L170.7,116.3 L170.2,116.8 L169.7,117.4 L169.1,118.0 L168.6,118.5 L168.1,119.1 L167.6,119.7 L167.1,120.2 L166.6,120.8 L166.1,121.4 L165.6,121.9 L165.0,122.5 L164.5,123.1 L164.0,123.6 L163.5,124.2 L163.0,124.8 L162.5,125.4 L162.0,125.9 L161.5,126.5 L161.0,127.1 L160.5,127.6 L160.0,128.2 L159.5,128.8 L159.0,129.4 L158.5,129.9 L157.9,130.5 L157.4,131.1 L156.9,131.6 L156.4,132.2 L155.9,132.8 L155.4,133.3 L154.9,133.9 L154.4,134.5 L153.9,135.0 L153.4,135.6 L152.9,136.2 L152.4,136.7 L151.9,137.3 L151.4,137.8 L150.9,138.4 L150.4,138.9 L149.9,139.5 L149.4,140.0 L148.8,140.6 L148.3,141.1 L147.8,141.7 L147.3,142.2 L146.8,142.7 L146.3,143.3 L145.8,143.8 L145.3,144.3 L144.8,144.9 L144.3,145.4 L143.7,145.9 L143.2,146.4 L142.7,146.9 L142.2,147.4 L141.7,147.9 L141.2,148.4 L140.7,148.9 L140.1,149.4 L139.6,149.9 L139.1,150.3 L138.6,150.8 L138.1,151.2 L137.5,151.7 L137.0,152.1 L136.5,152.6 L136.0,153.0 L135.4,153.4 L134.9,153.8 L134.4,154.2 L133.9,154.6 L133.3,155.0 L132.8,155.4 L132.3,155.7 L131.7,156.1 L131.2,156.4 L130.7,156.7 L130.1,157.0 L129.6,157.3 L129.0,157.6 L128.5,157.8 L128.0,158.1 L127.4,158.3 L126.9,158.5 L126.3,158.6 L125.8,158.8 L125.2,158.9 L124.7,159.0 L124.1,159.0 L123.6,159.1 L123.0,159.0 L122.5,159.0 L121.9,158.9 L121.3,158.8 L120.7,158.6 L120.1,158.4 L119.5,158.2 L118.9,157.9 L118.3,157.5 L117.7,157.1 L117.1,156.7 L116.4,156.2 L115.8,155.7 L115.1,155.2 L114.5,154.6 L113.8,154.0 L113.2,153.4 L112.5,152.7 L111.8,152.1 L111.2,151.4 L110.5,150.7 L109.8,150.1 L109.1,149.4 L108.5,148.8 L107.8,148.2 L107.1,147.5 L106.5,147.0 L105.8,146.4 L105.1,145.8 L104.5,145.3 L103.8,144.8 L103.1,144.3 L102.5,143.8 L101.8,143.4 L101.2,142.9 L100.6,142.5 L99.9,142.1 L99.3,141.7 L98.7,141.3 L98.1,141.0 L97.5,140.6 L96.9,140.3 L96.3,140.0 L95.7,139.7 L95.2,139.3 L94.6,139.1 L94.6,141.2" stroke="#800000"/>
<path d="M94.6,149.1 L95.2,147.3 L95.7,145.8 L96.3,144.6 L96.8,143.5 L97.4,142.5 L97.9,141.7 L98.5,141.0 L99.0,140.3 L99.6,139.7 L100.1,139.2 L100.7,138.7 L101.2,138.2 L101.8,137.7 L102.3,137.3 L102.9,136.9 L103.4,136.6 L104.0,136.2 L104.5,135.9 L105.1,135.5 L105.6,135.2 L106.2,134.9 L106.7,134.6 L107.3,134.3 L107.8,134.0 L108.4,133.7 L109.0,133.4 L109.5,133.2 L110.1,132.9 L110.6,132.6 L111.2,132.4 L111.7,132.1 L112.3,131.9 L112.8,131.6 L113.4,131.4 L113.9,131.1 L114.5,130.9 L115.0,130.6 L115.6,130.4 L116.1,130.2 L116.7,129.9 L117.2,129.7 L117.8,129.5 L118.3,129.3 L118.9,129.0 L119.4,128.8 L120.0,128.6 L120.5,128.4 L121.1,128.1 L121.6,127.9 L122.2,127.7 L122.7,127.5 L123.3,127.3 L123.8,127.0 L124.4,126.8 L124.9,126.6 L125.5,126.4 L126.0,126.2 L126.6,125.9 L127.1,125.7 L127.7,125.5 L128.2,125.2 L128.8,125.0 L129.3,124.8 L129.9,124.5 L130.4,124.3 L131.0,124.1 L131.6,123.8 L132.1,123.6 L132.7,123.3 L133.2,123.1 L133.8,122.8 L134.3,122.5 L134.9,122.3 L135.4,122.0 L136.0,121.7 L136.5,121.4 L137.1,121.2 L137.6,120.9 L138.2,120.6 L138.7,120.3 L139.3,120.0 L139.8,119.7 L140.4,119.4 L140.9,119.0 L141.5,118.7 L142.0,118.4 L142.6,118.0 L143.1,117.7 L143.7,117.4 L144.2,117.0 L144.8,116.6 L145.3,116.3 L145.9,115.9 L146.4,115.5 L147.0,115.2 L147.5,114.8 L148.1,114.4 L148.6,114.0 L149.2,113.6 L149.7,113.2 L150.3,112.8 L150.8,112.3 L151.4,111.9 L151.9,111.5 L152.5,111.1 L153.0,110.6 L153.6,110.2 L154.2,109.7 L154.7,109.3 L155.3,108.8 L155.8,108.4 L156.4,107.9 L156.9,107.4 L157.5,107.0 L158.0,106.5 L158.6,106.0 L159.1,105.5 L159.7,105.1 L160.2,104.6 L160.8,104.1 L161.3,103.6 L161.9,103.1 L162.4,102.6 L163.0,102.1 L163.5,101.5 L164.1,101.0 L164.6,100.5 L165.2,100.0 L165.7,99.5 L166.3,99.0 L166.8,98.4 L167.4,97.9 L167.9,97.4 L168.5,96.8 L169.0,96.3 L169.6,95.8 L170.1,95.2 L170.7,94.7 L171.2,94.1 L171.8,93.6 L172.3,93.0 L172.9,92.5 L173.4,91.9 L174.0,91.4 L174.5,90.8 L175.1,90.3 L175.6,89.7 L176.1,89.1 L176.7,88.6 L177.2,88.0 L177.8,87.5 L178.3,86.9 L178.9,86.3 L179.4,85.8 L180.0,85.2 L180.5,84.6 L181.0,84.1 L181.6,83.5 L182.1,82.9 L182.7,82.3 L183.2,81.8 L183.8,81.2 L184.3,80.6 L184.8,80.1 L185.4,79.5 L185.9,78.9 L186.5,78.3 L187.0,77.8 L187.6,77.2 L188.1,76.6 L188.6,76.0 L189.2,75.5 L189.7,74.9 L190.3,74.3 L190.8,73.8 L191.3,73.2 L191.9,72.6 L192.4,72.0 L192.9,71.5 L193.5,70.9 L194.0,70.3 L194.6,69.8 L195.1,69.2 L195.6,68.6 L196.2,68.1 L196.7,67.5 L197.3,66.9 L197.8,66.4 L198.3,65.8 L198.9,65.2 L199.4,64.7 L200.0,64.1 L200.5,63.6 L201.0,63.1 L201.6,62.5 L202.1,62.0 L202.6,61.5 L203.2,60.9 L203.7,60.4 L204.3,59.9 L204.8,59.4 L205.3,58.9 L205.9,58.4 L206.4,57.9 L207.0,57.4 L207.5,56.9 L208.0,56.4 L208.6,55.9 L209.1,55.4 L209.7,55.0 L210.2,54.5 L210.7,54.1 L211.3,53.6 L211.8,53.2 L212.4,52.7 L212.9,52.3 L213.4,51.8 L214.0,51.4 L214.5,51.0 L215.1,50.6 L215.6,50.2 L216.1,49.8 L216.7,49.4 L217.2,49.0 L217.8,48.7 L218.3,48.3 L218.9,48.0 L219.4,47.6 L219.9,47.3 L220.5,47.0 L221.0,46.6 L221.6,46.3 L222.1,46.0 L222.7,45.7 L223.2,45.5 L223.8,45.2 L224.3,44.9 L224.9,44.7 L225.4,44.5 L225.9,44.3 L226.5,44.1 L227.0,43.9 L227.6,43.7 L228.1,43.5 L228.7,43.4 L229.2,43.2 L229.8,43.1 L230.3,43.0 L230.9,43.0 L231.4,42.9 L232.0,42.8 L232.5,42.8 L233.1,42.8 L233.6,42.8 L234.2,42.9 L234.7,42.9 L235.3,43.0 L235.9,43.1 L236.4,43.2 L237.0,43.4 L237.5,43.5 L238.1,43.7 L238.7,43.9 L239.2,44.1 L239.8,44.4 L240.4,44.6 L241.0,44.9 L241.5,45.2 L242.1,45.5 L242.7,45.9 L243.3,46.2 L243.8,46.5 L244.4,46.9 L245.0,47.3 L245.6,47.7 L246.2,48.0 L246.7,48.4 L247.3,48.8 L247.9,49.2 L248.5,49.6 L249.1,50.0 L249.6,50.4 L250.2,50.8 L250.8,51.1 L251.4,51.5 L251.9,51.9 L252.5,52.3 L253.1,52.6 L253.7,53.0 L254.3,53.4 L254.8,53.7 L255.4,54.0 L256.0,54.4 L256.5,54.7 L257.1,55.0 L257.7,55.3 L258.3,55.6 L258.8,55.9 L259.4,56.2 L259.9,56.5 L260.5,56.8 L261.1,57.1 L261.6,57.3 L262.2,57.6 M262.2,62.1 L261.6,63.3 L261.1,64.2 L260.5,65.0 L260.0,65.7 L259.4,66.3 L258.9,66.9 L258.3,67.4 L257.8,67.8 L257.2,68.2 L256.7,68.6 L256.1,68.9 L255.6,69.2 L255.0,69.5 L254.5,69.8 L253.9,70.1 L253.4,70.4 L252.8,70.6 L252.3,70.9 L251.7,71.1 L251.2,71.3 L250.6,71.5 L250.1,71.8 L249.5,72.0 L249.0,72.2 L248.4,72.4 L247.8,72.6 L247.3,72.8 L246.7,73.0 L246.2,73.2 L245.6,73.4 L245.1,73.6 L244.5,73.8 L244.0,73.9 L243.4,74.1 L242.9,74.3 L242.3,74.5 L241.8,74.6 L241.2,74.8 L240.7,75.0 L240.1,75.2 L239.6,75.3 L239.0,75.5 L238.5,75.7 L237.9,75.8 L237.4,76.0 L236.8,76.1 L236.3,76.3 L235.7,76.5 L235.2,76.6 L234.6,76.8 L234.1,76.9 L233.5,77.1 L233.0,77.2 L232.4,77.4 L231.9,77.6 L231.3,77.7 L230.8,77.9 L230.2,78.0 L229.7,78.2 L229.1,78.3 L228.6,78.5 L228.0,78.6 L227.5,78.8 L226.9,78.9 L226.4,79.1 L225.8,79.2 L225.2,79.4 L224.7,79.5 L224.1,79.7 L223.6,79.8 L223.0,80.0 L222.5,80.2 L221.9,80.3 L221.4,80.5 L220.8,80.6 L220.3,80.8 L219.7,81.0 L219.2,81.1 L218.6,81.3 L218.1,81.5 L217.5,81.7 L217.0,81.8 L216.4,82.0 L215.9,82.2 L215.3,82.4 L214.8,82.6 L214.2,82.8 L213.7,83.0 L213.1,83.2 L212.6,83.4 L212.0,83.6 L211.5,83.8 L210.9,84.0 L210.4,84.3 L209.8,84.5 L209.3,84.7 L208.7,85.0 L208.2,85.2 L207.6,85.5 L207.1,85.7 L206.5,86.0 L206.0,86.3 L205.4,86.5 L204.9,86.8 L204.3,87.1 L203.8,87.4 L203.2,87.7 L202.6,88.0 L202.1,88.3 L201.5,88.7 L201.0,89.0 L200.4,89.3 L199.9,89.7 L199.3,90.0 L198.8,90.4 L198.2,90.8 L197.7,91.1 L197.1,91.5 L196.6,91.9 L196.0,92.3 L195.5,92.7 L194.9,93.1 L194.4,93.5 L193.8,93.9 L193.3,94.3 L192.7,94.8 L192.2,95.2 L191.6,95.6 L191.1,96.1 L190.5,96.5 L190.0,97.0 L189.4,97.4 L188.9,97.9 L188.3,98.4 L187.8,98.9 L187.2,99.3 L186.7,99.8 L186.1,100.3 L185.6,100.8 L185.0,101.3 L184.5,101.8 L183.9,102.3 L183.4,102.8 L182.8,103.3 L182.3,103.8 L181.7,104.4 L181.2,104.9 L180.6,105.4 L180.1,105.9 L179.5,106.5 L179.0,107.0 L178.4,107.5 L177.9,108.1 L177.4,108.6 L176.8,109.2 L176.3,109.7 L175.8,110.3 L175.2,110.8 L174.7,111.4 L174.2,111.9 L173.6,112.5 L173.1,113.0 L172.6,113.6 L172.1,114.2 L171.5,114.7 L171.0,115.3 L170.5,115.9 L170.0,116.5 L169.5,117.0 L168.9,117.6 L168.4,118.2 L167.9,118.8 L167.4,119.3 L166.9,119.9 L166.4,120.5 L165.8,121.1 L165.3,121.7 L164.8,122.2 L164.3,122.8 L163.8,123.4 L163.3,124.0 L162.8,124.6 L162.3,125.2 L161.8,125.8 L161.3,126.3 L160.8,126.9 L160.3,127.5 L159.7,128.1 L159.2,128.7 L158.7,129.3 L158.2,129.9 L157.7,130.5 L157.2,131.0 L156.7,131.6 L156.2,132.2 L155.7,132.8 L155.2,133.4 L154.7,134.0 L154.2,134.6 L153.7,135.2 L153.2,135.7 L152.7,136.3 L152.2,136.9 L151.7,137.5 L151.2,138.1 L150.7,138.6 L150.2,139.2 L149.7,139.8 L149.2,140.4 L148.7,140.9 L148.2,141.5 L147.7,142.1 L147.2,142.6 L146.7,143.2 L146.2,143.7 L145.7,144.2 L145.2,144.7 L144.7,145.3 L144.2,145.8 L143.7,146.3 L143.2,146.8 L142.7,147.3 L142.2,147.8 L141.7,148.3 L141.2,148.8 L140.7,149.3 L140.2,149.8 L139.7,150.2 L139.2,150.7 L138.7,151.2 L138.2,151.6 L137.6,152.1 L137.1,152.5 L136.6,153.0 L136.1,153.4 L135.6,153.8 L135.1,154.2 L134.6,154.7 L134.0,155.1 L133.5,155.5 L133.0,155.9 L132.5,156.2 L132.0,156.6 L131.4,157.0 L130.9,157.3 L130.4,157.7 L129.9,158.0 L129.3,158.4 L128.8,158.7 L128.3,159.0 L127.7,159.3 L127.2,159.6 L126.7,159.8 L126.1,160.1 L125.6,160.3 L125.1,160.6 L124.5,160.8 L124.0,161.0 L123.4,161.2 L122.9,161.3 L122.4,161.5 L121.8,161.6 L121.3,161.7 L120.7,161.8 L120.2,161.8 L119.6,161.8 L119.1,161.8 L118.5,161.8 L117.9,161.7 L117.3,161.6 L116.7,161.4 L116.1,161.2 L115.4,161.0 L114.8,160.7 L114.1,160.4 L113.5,160.1 L112.8,159.7 L112.1,159.3 L111.4,158.8 L110.7,158.3 L110.0,157.8 L109.3,157.3 L108.6,156.7 L107.9,156.1 L107.2,155.5 L106.5,155.0 L105.7,154.4 L105.0,153.8 L104.3,153.2 L103.6,152.6 L102.9,152.0 L102.2,151.5 L101.5,150.9 L100.8,150.4 L100.2,149.9 L99.5,149.4 L98.9,148.9 L98.2,148.5 L97.6,148.0 L97.0,147.6 L96.4,147.2 L95.8,146.8 L95.2,146.4 L94.6,146.0 L94.6,149.1" stroke="#808000"/>
<path d="M94.6,153.3 L95.2,151.4 L95.7,149.8 L96.3,148.4 L96.8,147.2 L97.4,146.1 L97.9,145.1 L98.5,144.3 L99.0,143.5 L99.6,142.8 L100.1,142.1 L100.7,141.6 L101.2,141.0 L101.8,140.5 L102.3,140.0 L102.9,139.5 L103.4,139.1 L104.0,138.7 L104.5,138.3 L105.1,137.9 L105.6,137.5 L106.2,137.2 L106.7,136.8 L107.3,136.5 L107.8,136.1 L108.4,135.8 L109.0,135.5 L109.5,135.2 L110.1,134.9 L110.6,134.6 L111.2,134.3 L111.7,134.0 L112.3,133.7 L112.8,133.4 L113.4,133.2 L113.9,132.9 L114.5,132.6 L115.0,132.4 L115.6,132.1 L116.1,131.8 L116.7,131.6 L117.2,131.3 L117.8,131.1 L118.3,130.8 L118.9,130.6 L119.4,130.3 L120.0,130.1 L120.5,129.8 L121.1,129.6 L121.6,129.4 L122.2,129.1 L122.7,128.9 L123.3,128.6 L123.8,128.4 L124.4,128.1 L124.9,127.9 L125.5,127.6 L126.0,127.4 L126.6,127.1 L127.1,126.9 L127.7,126.6 L128.2,126.4 L128.8,126.1 L129.3,125.9 L129.9,125.6 L130.4,125.4 L131.0,125.1 L131.6,124.8 L132.1,124.5 L132.7,124.3 L133.2,124.0 L133.8,123.7 L134.3,123.4 L134.9,123.1 L135.4,122.8 L136.0,122.5 L136.5,122.2 L137.1,121.9 L137.6,121.6 L138.2,121.3 L138.7,121.0 L139.3,120.6 L139.8,120.3 L140.4,120.0 L140.9,119.6 L141.5,119.3 L142.0,118.9 L142.6,118.6 L143.1,118.2 L143.7,117.8 L144.2,117.5 L144.8,117.1 L145.3,116.7 L145.9,116.3 L146.4,115.9 L147.0,115.5 L147.5,115.1 L148.1,114.7 L148.6,114.3 L149.2,113.9 L149.7,113.4 L150.3,113.0 L150.8,112.6 L151.4,112.1 L151.9,111.7 L152.5,111.2 L153.0,110.8 L153.6,110.3 L154.2,109.9 L154.7,109.4 L155.3,108.9 L155.8,108.5 L156.4,108.0 L156.9,107.5 L157.5,107.0 L158.0,106.5 L158.6,106.0 L159.1,105.5 L159.7,105.0 L160.2,104.5 L160.8,104.0 L161.3,103.5 L161.9,103.0 L162.4,102.5 L163.0,102.0 L163.5,101.4 L164.1,100.9 L164.6,100.4 L165.2,99.9 L165.7,99.3 L166.3,98.8 L166.8,98.3 L167.4,97.7 L167.9,97.2 L168.5,96.6 L169.0,96.1 L169.6,95.5 L170.1,95.0 L170.7,94.4 L171.2,93.9 L171.8,93.3 L172.3,92.8 L172.9,92.2 L173.4,91.6 L174.0,91.1 L174.5,90.5 L175.1,90.0 L175.6,89.4 L176.2,88.8 L176.7,88.2 L177.3,87.7 L177.8,87.1 L178.4,86.5 L178.9,86.0 L179.5,85.4 L180.0,84.8 L180.6,84.2 L181.1,83.7 L181.7,83.1 L182.2,82.5 L182.8,81.9 L183.3,81.3 L183.9,80.8 L184.4,80.2 L185.0,79.6 L185.5,79.0 L186.1,78.4 L186.6,77.9 L187.2,77.3 L187.7,76.7 L188.3,76.1 L188.8,75.5 L189.4,75.0 L189.9,74.4 L190.5,73.8 L191.0,73.2 L191.6,72.6 L192.1,72.1 L192.7,71.5 L193.2,70.9 L193.8,70.3 L194.3,69.7 L194.9,69.2 L195.4,68.6 L196.0,68.0 L196.5,67.5 L197.1,66.9 L197.6,66.3 L198.2,65.7 L198.7,65.2 L199.3,64.6 L199.8,64.0 L200.4,63.5 L200.9,62.9 L201.5,62.3 L202.0,61.8 L202.6,61.2 L203.1,60.7 L203.7,60.1 L204.2,59.6 L204.8,59.1 L205.3,58.5 L205.9,58.0 L206.4,57.5 L207.0,57.0 L207.5,56.5 L208.1,56.0 L208.6,55.5 L209.2,55.0 L209.7,54.5 L210.3,54.0 L210.8,53.5 L211.4,53.1 L211.9,52.6 L212.4,52.1 L213.0,51.7 L213.5,51.2 L214.1,50.8 L214.6,50.3 L215.2,49.9 L215.7,49.5 L216.3,49.1 L216.8,48.7 L217.4,48.3 L217.9,47.9 L218.5,47.5 L219.0,47.1 L219.6,46.7 L220.1,46.4 L220.7,46.0 L221.2,45.7 L221.8,45.3 L222.3,45.0 L222.9,44.7 L223.4,44.4 L224.0,44.1 L224.5,43.8 L225.1,43.5 L225.6,43.2 L226.2,43.0 L226.7,42.7 L227.3,42.5 L227.8,42.3 L228.4,42.1 L228.9,41.9 L229.5,41.7 L230.0,41.5 L230.6,41.4 L231.1,41.2 L231.7,41.1 L232.2,41.0 L232.8,40.9 L233.4,40.8 L233.9,40.8 L234.5,40.7 L235.0,40.7 L235.6,40.7 L236.1,40.7 L236.7,40.8 L237.2,40.8 L237.8,40.9 L238.3,41.0 L238.9,41.1 L239.4,41.3 L240.0,41.4 L240.5,41.6 L241.1,41.8 L241.6,42.0 L242.2,42.3 L242.8,42.5 L243.3,42.8 L243.9,43.1 L244.4,43.4 L245.0,43.8 L245.5,44.1 L246.1,44.4 L246.6,44.8 L247.2,45.2 L247.8,45.5 L248.3,45.9 L248.9,46.3 L249.4,46.7 L250.0,47.1 L250.5,47.5 L251.1,47.9 L251.7,48.3 L252.2,48.6 L252.8,49.0 L253.3,49.4 L253.9,49.8 L254.4,50.2 L255.0,50.5 L255.5,50.9 L256.1,51.2 L256.7,51.6 L257.2,51.9 L257.8,52.3 L258.3,52.6 L258.9,52.9 L259.4,53.2 L260.0,53.5 L260.5,53.8 L261.1,54.1 L261.6,54.4 L262.2,54.7 M262.2,59.5 L261.6,60.7 L261.1,61.7 L260.5,62.6 L260.0,63.4 L259.4,64.1 L258.9,64.7 L258.3,65.2 L257.8,65.7 L257.2,66.2 L256.7,66.6 L256.1,67.0 L255.6,67.3 L255.0,67.7 L254.5,68.0 L253.9,68.3 L253.4,68.6 L252.8,68.9 L252.3,69.2 L251.7,69.4 L251.2,69.7 L250.6,69.9 L250.1,70.2 L249.5,70.4 L249.0,70.6 L248.4,70.9 L247.8,71.1 L247.3,71.3 L246.7,71.5 L246.2,71.7 L245.6,71.9 L245.1,72.1 L244.5,72.3 L244.0,72.5 L243.4,72.7 L242.9,72.9 L242.3,73.1 L241.8,73.3 L241.2,73.5 L240.7,73.7 L240.1,73.9 L239.6,74.0 L239.0,74.2 L238.5,74.4 L237.9,74.6 L237.4,74.7 L236.8,74.9 L236.3,75.1 L235.7,75.3 L235.2,75.4 L234.6,75.6 L234.1,75.8 L233.5,75.9 L233.0,76.1 L232.4,76.3 L231.9,76.4 L231.3,76.6 L230.8,76.8 L230.2,76.9 L229.7,77.1 L229.1,77.2 L228.6,77.4 L228.0,77.6 L227.5,77.7 L226.9,77.9 L226.4,78.0 L225.8,78.2 L225.2,78.4 L224.7,78.5 L224.1,78.7 L223.6,78.9 L223.0,79.0 L222.5,79.2 L221.9,79.4 L221.4,79.5 L220.8,79.7 L220.3,79.9 L219.7,80.1 L219.2,80.2 L218.6,80.4 L218.1,80.6 L217.5,80.8 L217.0,81.0 L216.4,81.2 L215.9,81.4 L215.3,81.6 L214.8,81.8 L214.2,82.0 L213.7,82.2 L213.1,82.4 L212.6,82.6 L212.0,82.8 L211.5,83.0 L210.9,83.3 L210.4,83.5 L209.8,83.8 L209.3,84.0 L208.7,84.2 L208.2,84.5 L207.6,84.8 L207.1,85.0 L206.5,85.3 L206.0,85.6 L205.4,85.9 L204.9,86.2 L204.3,86.5 L203.8,86.8 L203.2,87.1 L202.6,87.4 L202.1,87.7 L201.5,88.1 L201.0,88.4 L200.4,88.8 L199.9,89.1 L199.3,89.5 L198.8,89.8 L198.2,90.2 L197.7,90.6 L197.1,91.0 L196.6,91.4 L196.0,91.8 L195.5,92.2 L194.9,92.6 L194.4,93.0 L193.8,93.4 L193.3,93.9 L192.7,94.3 L192.2,94.7 L191.6,95.2 L191.1,95.6 L190.5,96.1 L190.0,96.5 L189.4,97.0 L188.9,97.5 L188.3,98.0 L187.8,98.4 L187.2,98.9 L186.7,99.4 L186.1,99.9 L185.6,100.4 L185.0,100.9 L184.5,101.4 L183.9,101.9 L183.4,102.4 L182.8,103.0 L182.3,103.5 L181.7,104.0 L181.2,104.5 L180.6,105.1 L180.1,105.6 L179.5,106.1 L179.0,106.7 L178.4,107.2 L177.9,107.8 L177.3,108.3 L176.8,108.9 L176.2,109.4 L175.7,110.0 L175.2,110.5 L174.6,111.1 L174.1,111.6 L173.6,112.2 L173.0,112.8 L172.5,113.4 L172.0,113.9 L171.5,114.5 L170.9,115.1 L170.4,115.6 L169.9,116.2 L169.4,116.8 L168.8,117.4 L168.3,118.0 L167.8,118.5 L167.3,119.1 L166.8,119.7 L166.3,120.3 L165.7,120.9 L165.2,121.5 L164.7,122.1 L164.2,122.7 L163.7,123.2 L163.2,123.8 L162.7,124.4 L162.2,125.0 L161.7,125.6 L161.2,126.2 L160.7,126.8 L160.2,127.4 L159.7,128.0 L159.2,128.6 L158.6,129.2 L158.1,129.8 L157.6,130.4 L157.1,131.0 L156.7,131.6 L156.2,132.2 L155.7,132.8 L155.2,133.4 L154.7,133.9 L154.2,134.5 L153.7,135.1 L153.2,135.7 L152.7,136.3 L152.2,136.9 L151.7,137.5 L151.2,138.1 L150.7,138.7 L150.2,139.3 L149.7,139.9 L149.2,140.4 L148.7,141.0 L148.2,141.6 L147.7,142.2 L147.2,142.8 L146.7,143.3 L146.2,143.9 L145.7,144.5 L145.3,145.1 L144.8,145.6 L144.3,146.2 L143.8,146.8 L143.3,147.4 L142.8,147.9 L142.3,148.5 L141.8,149.1 L141.3,149.6 L140.8,150.2 L140.3,150.7 L139.8,151.3 L139.3,151.8 L138.8,152.4 L138.3,152.9 L137.8,153.5 L137.3,154.0 L136.7,154.5 L136.2,155.1 L135.7,155.6 L135.2,156.1 L134.7,156.6 L134.2,157.1 L133.7,157.6 L133.2,158.1 L132.7,158.6 L132.2,159.1 L131.6,159.6 L131.1,160.0 L130.6,160.5 L130.1,160.9 L129.6,161.4 L129.0,161.8 L128.5,162.2 L128.0,162.6 L127.5,163.0 L126.9,163.4 L126.4,163.8 L125.9,164.1 L125.4,164.5 L124.8,164.8 L124.3,165.1 L123.8,165.4 L123.2,165.6 L122.7,165.9 L122.1,166.1 L121.6,166.3 L121.1,166.5 L120.5,166.7 L120.0,166.8 L119.4,166.9 L118.9,167.0 L118.3,167.0 L117.8,167.0 L117.2,167.0 L116.6,166.9 L116.0,166.8 L115.4,166.6 L114.8,166.4 L114.1,166.2 L113.5,165.9 L112.8,165.5 L112.1,165.2 L111.4,164.7 L110.7,164.3 L110.0,163.7 L109.2,163.2 L108.5,162.6 L107.8,162.0 L107.0,161.3 L106.3,160.6 L105.5,160.0 L104.8,159.3 L104.0,158.6 L103.3,157.8 L102.5,157.1 L101.8,156.4 L101.1,155.7 L100.4,155.1 L99.7,154.4 L99.0,153.8 L98.3,153.1 L97.7,152.5 L97.0,151.9 L96.4,151.4 L95.8,150.8 L95.2,150.3 L94.6,149.8 L94.6,153.3" stroke="#000080"/>
</g>
<rect x="49.1" y="32.1" width="225.75" height="158.3" fill="none" stroke="#000" stroke-width="1.45"/>
<line x1="46.9" y1="32.1" x2="49.1" y2="32.1" stroke="#000" stroke-width="1.45"/>
<text x="43" y="34.64" font-size="7.1" font-weight="bold" text-anchor="end">200</text>
<line x1="46.9" y1="63.76" x2="49.1" y2="63.76" stroke="#000" stroke-width="1.45"/>
<text x="43" y="66.3" font-size="7.1" font-weight="bold" text-anchor="end">100</text>
<line x1="46.9" y1="95.42" x2="49.1" y2="95.42" stroke="#000" stroke-width="1.45"/>
<text x="43" y="97.96" font-size="7.1" font-weight="bold" text-anchor="end">0</text>
<line x1="46.9" y1="127.08" x2="49.1" y2="127.08" stroke="#000" stroke-width="1.45"/>
<text x="44.3" y="129.62" font-size="7.1" font-weight="bold" text-anchor="end">100</text>
<rect x="28.14" y="126.23" width="3.9" height="1.2" fill="#111"/>
<line x1="46.9" y1="158.74" x2="49.1" y2="158.74" stroke="#000" stroke-width="1.45"/>
<text x="44.3" y="161.28" font-size="7.1" font-weight="bold" text-anchor="end">200</text>
<rect x="28.14" y="157.89" width="3.9" height="1.2" fill="#111"/>
<line x1="46.9" y1="190.4" x2="49.1" y2="190.4" stroke="#000" stroke-width="1.45"/>
<text x="44.3" y="192.94" font-size="7.1" font-weight="bold" text-anchor="end">300</text>
<rect x="28.14" y="189.55" width="3.9" height="1.2" fill="#111"/>
<line x1="49.1" y1="190.4" x2="49.1" y2="192.6" stroke="#000" stroke-width="1.45"/>
<text x="52.1" y="203.4" font-size="7.1" font-weight="bold" text-anchor="middle">0.4</text>
<rect x="43.45" y="200.26" width="2.9" height="1.2" fill="#111"/>
<line x1="94.25" y1="190.4" x2="94.25" y2="192.6" stroke="#000" stroke-width="1.45"/>
<text x="97.25" y="203.4" font-size="7.1" font-weight="bold" text-anchor="middle">0.2</text>
<rect x="88.6" y="200.26" width="2.9" height="1.2" fill="#111"/>
<line x1="139.4" y1="190.4" x2="139.4" y2="192.6" stroke="#000" stroke-width="1.45"/>
<text x="139.4" y="203.4" font-size="7.1" font-weight="bold" text-anchor="middle">0.0</text>
<line x1="184.55" y1="190.4" x2="184.55" y2="192.6" stroke="#000" stroke-width="1.45"/>
<text x="184.55" y="203.4" font-size="7.1" font-weight="bold" text-anchor="middle">0.2</text>
<line x1="229.7" y1="190.4" x2="229.7" y2="192.6" stroke="#000" stroke-width="1.45"/>
<text x="229.7" y="203.4" font-size="7.1" font-weight="bold" text-anchor="middle">0.4</text>
<line x1="274.85" y1="190.4" x2="274.85" y2="192.6" stroke="#000" stroke-width="1.45"/>
<text x="274.85" y="203.4" font-size="7.1" font-weight="bold" text-anchor="middle">0.6</text>
<text x="161.9" y="218.9" font-size="8.2" font-weight="bold" text-anchor="middle" textLength="49.6" lengthAdjust="spacingAndGlyphs">Potential (V)</text>
<text transform="translate(19.4,110.35) rotate(-90)" font-size="6.9" font-weight="bold" text-anchor="middle" textLength="49.4" lengthAdjust="spacingAndGlyphs">Current (uA)</text>
<text x="235.75" y="123.7" font-size="8.5" font-weight="bold" text-anchor="middle" textLength="36.8" lengthAdjust="spacingAndGlyphs">0.025 V/s</text>
<line x1="237.2" y1="128" x2="237.2" y2="141.5" stroke="#111" stroke-width="1.1"/>
<path d="M235.4,141 L239,141 L237.2,145 Z" fill="#111"/>
<text x="235" y="156" font-size="8.5" font-weight="bold" text-anchor="middle">0.3 V/s</text>
<text x="9.8" y="242.1" font-size="14" font-weight="bold" class="serif">B</text>
<rect x="43.15" y="256" width="203.35" height="142.3" fill="none" stroke="#000" stroke-width="1.45"/>
<line x1="40.95" y1="256" x2="43.15" y2="256" stroke="#000" stroke-width="1.45"/>
<text x="38" y="258.33" font-size="6.5" font-weight="bold" text-anchor="end">300</text>
<line x1="40.95" y1="279.72" x2="43.15" y2="279.72" stroke="#000" stroke-width="1.45"/>
<text x="38" y="282.04" font-size="6.5" font-weight="bold" text-anchor="end">200</text>
<line x1="40.95" y1="303.43" x2="43.15" y2="303.43" stroke="#000" stroke-width="1.45"/>
<text x="38" y="305.76" font-size="6.5" font-weight="bold" text-anchor="end">100</text>
<line x1="40.95" y1="327.15" x2="43.15" y2="327.15" stroke="#000" stroke-width="1.45"/>
<text x="38" y="329.48" font-size="6.5" font-weight="bold" text-anchor="end">0</text>
<line x1="40.95" y1="350.87" x2="43.15" y2="350.87" stroke="#000" stroke-width="1.45"/>
<text x="39.3" y="353.19" font-size="6.5" font-weight="bold" text-anchor="end">100</text>
<rect x="23.92" y="350.02" width="3.9" height="1.2" fill="#111"/>
<line x1="40.95" y1="374.58" x2="43.15" y2="374.58" stroke="#000" stroke-width="1.45"/>
<text x="39.3" y="376.91" font-size="6.5" font-weight="bold" text-anchor="end">200</text>
<rect x="23.92" y="373.73" width="3.9" height="1.2" fill="#111"/>
<line x1="40.95" y1="398.3" x2="43.15" y2="398.3" stroke="#000" stroke-width="1.45"/>
<text x="39.3" y="400.63" font-size="6.5" font-weight="bold" text-anchor="end">300</text>
<rect x="23.92" y="397.45" width="3.9" height="1.2" fill="#111"/>
<line x1="43.15" y1="398.3" x2="43.15" y2="400.5" stroke="#000" stroke-width="1.45"/>
<text x="43.15" y="409.6" font-size="6.5" font-weight="bold" text-anchor="middle">0.1</text>
<line x1="83.82" y1="398.3" x2="83.82" y2="400.5" stroke="#000" stroke-width="1.45"/>
<text x="83.82" y="409.6" font-size="6.5" font-weight="bold" text-anchor="middle">0.2</text>
<line x1="124.49" y1="398.3" x2="124.49" y2="400.5" stroke="#000" stroke-width="1.45"/>
<text x="124.49" y="409.6" font-size="6.5" font-weight="bold" text-anchor="middle">0.3</text>
<line x1="165.16" y1="398.3" x2="165.16" y2="400.5" stroke="#000" stroke-width="1.45"/>
<text x="165.16" y="409.6" font-size="6.5" font-weight="bold" text-anchor="middle">0.4</text>
<line x1="205.83" y1="398.3" x2="205.83" y2="400.5" stroke="#000" stroke-width="1.45"/>
<text x="205.83" y="409.6" font-size="6.5" font-weight="bold" text-anchor="middle">0.5</text>
<line x1="246.5" y1="398.3" x2="246.5" y2="400.5" stroke="#000" stroke-width="1.45"/>
<text x="246.5" y="409.6" font-size="6.5" font-weight="bold" text-anchor="middle">0.6</text>
<text x="86.4" y="424.4" font-size="7.5" font-weight="bold" textLength="108.8" lengthAdjust="spacingAndGlyphs">Square root of scan rate (V/s)</text>
<text x="196.6" y="422.2" font-size="4.7" textLength="5.5" lengthAdjust="spacingAndGlyphs">1/2</text>
<text transform="translate(16.8,326.05) rotate(-90)" font-size="7.0" font-weight="bold" text-anchor="middle" textLength="66.8" lengthAdjust="spacingAndGlyphs">Peak current (uA)</text>
<line x1="67" y1="310.25" x2="225.2" y2="285.25" stroke="#000" stroke-width="1.15"/>
<circle cx="67" cy="311.6" r="1.95" fill="#000"/>
<circle cx="93.6" cy="306" r="1.95" fill="#000"/>
<circle cx="113.8" cy="302" r="1.95" fill="#000"/>
<circle cx="131" cy="299.4" r="1.95" fill="#000"/>
<circle cx="146.2" cy="298.2" r="1.95" fill="#000"/>
<circle cx="160" cy="294.8" r="1.95" fill="#000"/>
<circle cx="172.6" cy="293" r="1.95" fill="#000"/>
<circle cx="184.2" cy="291.8" r="1.95" fill="#000"/>
<circle cx="195.3" cy="289.5" r="1.95" fill="#000"/>
<circle cx="215.7" cy="287.5" r="1.95" fill="#000"/>
<circle cx="225.2" cy="286" r="1.95" fill="#000"/>
<line x1="67" y1="348.76" x2="225.2" y2="380.16" stroke="#f00" stroke-width="1.15"/>
<circle cx="67" cy="348.2" r="1.95" fill="#f00"/>
<circle cx="93.6" cy="354" r="1.95" fill="#f00"/>
<circle cx="113.8" cy="358" r="1.95" fill="#f00"/>
<circle cx="131" cy="361.2" r="1.95" fill="#f00"/>
<circle cx="146.2" cy="366.6" r="1.95" fill="#f00"/>
<circle cx="160" cy="367.2" r="1.95" fill="#f00"/>
<circle cx="172.6" cy="369.6" r="1.95" fill="#f00"/>
<circle cx="184.2" cy="371" r="1.95" fill="#f00"/>
<circle cx="195.3" cy="374.8" r="1.95" fill="#f00"/>
<circle cx="215.7" cy="377" r="1.95" fill="#f00"/>
<circle cx="225.2" cy="380.8" r="1.95" fill="#f00"/>
<circle cx="51.3" cy="264.1" r="1.9" fill="#000"/>
<circle cx="51.3" cy="274.3" r="1.9" fill="#f00"/>
<text x="64.9" y="266" font-size="8.2" font-weight="bold" fill="#333">i<tspan font-size="5.4" dy="1.7" dx="0.2" textLength="6.2" lengthAdjust="spacingAndGlyphs">pa</tspan></text>
<text x="64.9" y="276.9" font-size="8.2" font-weight="bold" fill="#333">i<tspan font-size="5.4" dy="1.7" dx="0.2" textLength="6.2" lengthAdjust="spacingAndGlyphs">pc</tspan></text>
<text x="303.2" y="242.3" font-size="14" font-weight="bold" class="serif">C</text>
<rect x="336.9" y="255.75" width="201.1" height="140.75" fill="none" stroke="#000" stroke-width="1.45"/>
<line x1="334.7" y1="255.75" x2="336.9" y2="255.75" stroke="#000" stroke-width="1.45"/>
<text x="331.7" y="258.08" font-size="6.5" font-weight="bold" text-anchor="end" textLength="12.03" lengthAdjust="spacingAndGlyphs">300</text>
<line x1="334.7" y1="279.21" x2="336.9" y2="279.21" stroke="#000" stroke-width="1.45"/>
<text x="331.7" y="281.54" font-size="6.5" font-weight="bold" text-anchor="end" textLength="12.03" lengthAdjust="spacingAndGlyphs">200</text>
<line x1="334.7" y1="302.67" x2="336.9" y2="302.67" stroke="#000" stroke-width="1.45"/>
<text x="331.7" y="304.99" font-size="6.5" font-weight="bold" text-anchor="end" textLength="12.03" lengthAdjust="spacingAndGlyphs">100</text>
<line x1="334.7" y1="326.12" x2="336.9" y2="326.12" stroke="#000" stroke-width="1.45"/>
<text x="331.7" y="328.45" font-size="6.5" font-weight="bold" text-anchor="end" textLength="4.01" lengthAdjust="spacingAndGlyphs">0</text>
<line x1="334.7" y1="349.58" x2="336.9" y2="349.58" stroke="#000" stroke-width="1.45"/>
<text x="333" y="351.91" font-size="6.5" font-weight="bold" text-anchor="end" textLength="12.03" lengthAdjust="spacingAndGlyphs">100</text>
<rect x="316.43" y="348.73" width="3.9" height="1.2" fill="#111"/>
<line x1="334.7" y1="373.04" x2="336.9" y2="373.04" stroke="#000" stroke-width="1.45"/>
<text x="333" y="375.37" font-size="6.5" font-weight="bold" text-anchor="end" textLength="12.03" lengthAdjust="spacingAndGlyphs">200</text>
<rect x="316.43" y="372.19" width="3.9" height="1.2" fill="#111"/>
<line x1="334.7" y1="396.5" x2="336.9" y2="396.5" stroke="#000" stroke-width="1.45"/>
<text x="333" y="398.83" font-size="6.5" font-weight="bold" text-anchor="end" textLength="12.03" lengthAdjust="spacingAndGlyphs">300</text>
<rect x="316.43" y="395.65" width="3.9" height="1.2" fill="#111"/>
<line x1="336.9" y1="396.5" x2="336.9" y2="398.7" stroke="#000" stroke-width="1.45"/>
<text x="336.9" y="407.9" font-size="6.5" font-weight="bold" text-anchor="middle" textLength="13.91" lengthAdjust="spacingAndGlyphs">0.00</text>
<line x1="365.63" y1="396.5" x2="365.63" y2="398.7" stroke="#000" stroke-width="1.45"/>
<text x="365.63" y="407.9" font-size="6.5" font-weight="bold" text-anchor="middle" textLength="13.91" lengthAdjust="spacingAndGlyphs">0.05</text>
<line x1="394.36" y1="396.5" x2="394.36" y2="398.7" stroke="#000" stroke-width="1.45"/>
<text x="394.36" y="407.9" font-size="6.5" font-weight="bold" text-anchor="middle" textLength="13.91" lengthAdjust="spacingAndGlyphs">0.10</text>
<line x1="423.09" y1="396.5" x2="423.09" y2="398.7" stroke="#000" stroke-width="1.45"/>
<text x="423.09" y="407.9" font-size="6.5" font-weight="bold" text-anchor="middle" textLength="13.91" lengthAdjust="spacingAndGlyphs">0.15</text>
<line x1="451.81" y1="396.5" x2="451.81" y2="398.7" stroke="#000" stroke-width="1.45"/>
<text x="451.81" y="407.9" font-size="6.5" font-weight="bold" text-anchor="middle" textLength="13.91" lengthAdjust="spacingAndGlyphs">0.20</text>
<line x1="480.54" y1="396.5" x2="480.54" y2="398.7" stroke="#000" stroke-width="1.45"/>
<text x="480.54" y="407.9" font-size="6.5" font-weight="bold" text-anchor="middle" textLength="13.91" lengthAdjust="spacingAndGlyphs">0.25</text>
<line x1="509.27" y1="396.5" x2="509.27" y2="398.7" stroke="#000" stroke-width="1.45"/>
<text x="509.27" y="407.9" font-size="6.5" font-weight="bold" text-anchor="middle" textLength="13.91" lengthAdjust="spacingAndGlyphs">0.30</text>
<line x1="538" y1="396.5" x2="538" y2="398.7" stroke="#000" stroke-width="1.45"/>
<text x="538" y="407.9" font-size="6.5" font-weight="bold" text-anchor="middle" textLength="13.91" lengthAdjust="spacingAndGlyphs">0.35</text>
<text x="437.6" y="421.7" font-size="7.6" font-weight="bold" text-anchor="middle" textLength="53.4" lengthAdjust="spacingAndGlyphs">Scan rate (V/s)</text>
<text transform="translate(311.4,325.1) rotate(-90)" font-size="7.0" font-weight="bold" text-anchor="middle" textLength="65" lengthAdjust="spacingAndGlyphs">Peak current (uA)</text>
<line x1="351.1" y1="306.74" x2="509.17" y2="282.93" stroke="#000" stroke-width="1.15"/>
<path d="M351.1,308.54 L353.25,312.63 L348.95,312.63 Z" fill="#000"/>
<path d="M365.47,302.74 L367.62,306.83 L363.32,306.83 Z" fill="#000"/>
<path d="M379.84,298.94 L381.99,303.03 L377.69,303.03 Z" fill="#000"/>
<path d="M394.21,296.74 L396.36,300.83 L392.06,300.83 Z" fill="#000"/>
<path d="M408.58,294.74 L410.73,298.83 L406.43,298.83 Z" fill="#000"/>
<path d="M422.95,292.14 L425.1,296.23 L420.8,296.23 Z" fill="#000"/>
<path d="M437.32,289.94 L439.47,294.03 L435.17,294.03 Z" fill="#000"/>
<path d="M451.69,288.34 L453.84,292.43 L449.54,292.43 Z" fill="#000"/>
<path d="M466.06,286.34 L468.21,290.43 L463.91,290.43 Z" fill="#000"/>
<path d="M480.43,285.74 L482.58,289.83 L478.28,289.83 Z" fill="#000"/>
<path d="M494.8,284.14 L496.95,288.23 L492.65,288.23 Z" fill="#000"/>
<path d="M509.17,282.54 L511.32,286.63 L507.02,286.63 Z" fill="#000"/>
<line x1="351.1" y1="350.68" x2="509.17" y2="379.64" stroke="#f00" stroke-width="1.15"/>
<path d="M351.1,344.44 L353.25,348.53 L348.95,348.53 Z" fill="#f00"/>
<path d="M365.47,349.84 L367.62,353.93 L363.32,353.93 Z" fill="#f00"/>
<path d="M379.84,354.44 L381.99,358.53 L377.69,358.53 Z" fill="#f00"/>
<path d="M394.21,357.34 L396.36,361.43 L392.06,361.43 Z" fill="#f00"/>
<path d="M408.58,362.64 L410.73,366.73 L406.43,366.73 Z" fill="#f00"/>
<path d="M422.95,363.34 L425.1,367.43 L420.8,367.43 Z" fill="#f00"/>
<path d="M437.32,365.44 L439.47,369.53 L435.17,369.53 Z" fill="#f00"/>
<path d="M451.69,366.94 L453.84,371.03 L449.54,371.03 Z" fill="#f00"/>
<path d="M466.06,370.54 L468.21,374.63 L463.91,374.63 Z" fill="#f00"/>
<path d="M480.43,370.34 L482.58,374.43 L478.28,374.43 Z" fill="#f00"/>
<path d="M494.8,373.14 L496.95,377.23 L492.65,377.23 Z" fill="#f00"/>
<path d="M509.17,376.34 L511.32,380.43 L507.02,380.43 Z" fill="#f00"/>
<path d="M346,262.9 L348,266.7 L344,266.7 Z" fill="#000"/>
<path d="M346,274.5 L348,278.3 L344,278.3 Z" fill="#f00"/>
<text x="359.3" y="267.2" font-size="8.2" font-weight="bold" fill="#333">i<tspan font-size="5.4" dy="1.7" dx="0.2" textLength="6.2" lengthAdjust="spacingAndGlyphs">pa</tspan></text>
<text x="359.3" y="278.7" font-size="8.2" font-weight="bold" fill="#333">i<tspan font-size="5.4" dy="1.7" dx="0.2" textLength="6.2" lengthAdjust="spacingAndGlyphs">pc</tspan></text>
<rect x="277.8" y="194" width="20" height="16" fill="#fff"/>
<rect x="248.4" y="401" width="12" height="12" fill="#fff"/>
<rect x="542.3" y="399" width="8" height="12" fill="#fff"/>
</svg>
</body></html>
